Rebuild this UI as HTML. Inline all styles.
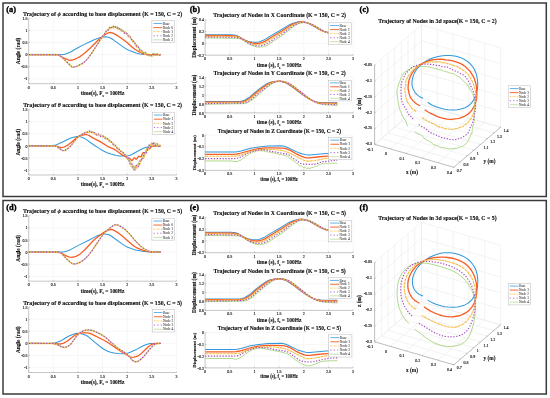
<!DOCTYPE html>
<html><head><meta charset="utf-8"><style>
html,body{margin:0;padding:0;background:#fff;}
svg{display:block;font-family:'Liberation Serif',serif;will-change:transform;}
</style></head><body>
<svg width="550" height="398" viewBox="0 0 550 398">
<rect width="550" height="398" fill="#fff"/>
<rect x="3" y="3" width="543.3" height="193.5" fill="none" stroke="#3a3a3a" stroke-width="1.5"/>
<text transform="translate(6.20 12.10) scale(0.8400 0.8400)" font-size="10" font-weight="bold" text-anchor="start" fill="#000" stroke="#000" stroke-width="0.417">(a)</text>
<text transform="translate(189.70 12.10) scale(0.8400 0.8400)" font-size="10" font-weight="bold" text-anchor="start" fill="#000" stroke="#000" stroke-width="0.417">(b)</text>
<line x1="53.32" y1="18.24" x2="53.32" y2="83.70" stroke="#efefef" stroke-width="0.5"/>
<line x1="77.93" y1="18.24" x2="77.93" y2="83.70" stroke="#efefef" stroke-width="0.5"/>
<line x1="102.55" y1="18.24" x2="102.55" y2="83.70" stroke="#efefef" stroke-width="0.5"/>
<line x1="127.17" y1="18.24" x2="127.17" y2="83.70" stroke="#efefef" stroke-width="0.5"/>
<line x1="151.78" y1="18.24" x2="151.78" y2="83.70" stroke="#efefef" stroke-width="0.5"/>
<line x1="176.40" y1="18.24" x2="176.40" y2="83.70" stroke="#efefef" stroke-width="0.5"/>
<line x1="28.70" y1="18.24" x2="176.40" y2="18.24" stroke="#efefef" stroke-width="0.5"/>
<line x1="28.70" y1="30.36" x2="176.40" y2="30.36" stroke="#efefef" stroke-width="0.5"/>
<line x1="28.70" y1="42.48" x2="176.40" y2="42.48" stroke="#efefef" stroke-width="0.5"/>
<line x1="28.70" y1="54.61" x2="176.40" y2="54.61" stroke="#efefef" stroke-width="0.5"/>
<line x1="28.70" y1="66.73" x2="176.40" y2="66.73" stroke="#efefef" stroke-width="0.5"/>
<line x1="28.70" y1="78.85" x2="176.40" y2="78.85" stroke="#efefef" stroke-width="0.5"/>
<line x1="28.70" y1="18.24" x2="28.70" y2="83.70" stroke="#8c8c8c" stroke-width="0.5"/>
<line x1="28.70" y1="83.70" x2="176.40" y2="83.70" stroke="#8c8c8c" stroke-width="0.5"/>
<line x1="28.70" y1="83.70" x2="28.70" y2="82.50" stroke="#8c8c8c" stroke-width="0.4"/>
<text transform="translate(28.70 88.70) scale(0.4000 0.4600)" font-size="10" font-weight="normal" text-anchor="middle" fill="#1a1a1a" stroke="#1a1a1a" stroke-width="0.350">0</text>
<line x1="53.32" y1="83.70" x2="53.32" y2="82.50" stroke="#8c8c8c" stroke-width="0.4"/>
<text transform="translate(53.32 88.70) scale(0.4000 0.4600)" font-size="10" font-weight="normal" text-anchor="middle" fill="#1a1a1a" stroke="#1a1a1a" stroke-width="0.350">0.5</text>
<line x1="77.93" y1="83.70" x2="77.93" y2="82.50" stroke="#8c8c8c" stroke-width="0.4"/>
<text transform="translate(77.93 88.70) scale(0.4000 0.4600)" font-size="10" font-weight="normal" text-anchor="middle" fill="#1a1a1a" stroke="#1a1a1a" stroke-width="0.350">1</text>
<line x1="102.55" y1="83.70" x2="102.55" y2="82.50" stroke="#8c8c8c" stroke-width="0.4"/>
<text transform="translate(102.55 88.70) scale(0.4000 0.4600)" font-size="10" font-weight="normal" text-anchor="middle" fill="#1a1a1a" stroke="#1a1a1a" stroke-width="0.350">1.5</text>
<line x1="127.17" y1="83.70" x2="127.17" y2="82.50" stroke="#8c8c8c" stroke-width="0.4"/>
<text transform="translate(127.17 88.70) scale(0.4000 0.4600)" font-size="10" font-weight="normal" text-anchor="middle" fill="#1a1a1a" stroke="#1a1a1a" stroke-width="0.350">2</text>
<line x1="151.78" y1="83.70" x2="151.78" y2="82.50" stroke="#8c8c8c" stroke-width="0.4"/>
<text transform="translate(151.78 88.70) scale(0.4000 0.4600)" font-size="10" font-weight="normal" text-anchor="middle" fill="#1a1a1a" stroke="#1a1a1a" stroke-width="0.350">2.5</text>
<line x1="176.40" y1="83.70" x2="176.40" y2="82.50" stroke="#8c8c8c" stroke-width="0.4"/>
<text transform="translate(176.40 88.70) scale(0.4000 0.4600)" font-size="10" font-weight="normal" text-anchor="middle" fill="#1a1a1a" stroke="#1a1a1a" stroke-width="0.350">3</text>
<line x1="28.70" y1="18.24" x2="29.90" y2="18.24" stroke="#8c8c8c" stroke-width="0.4"/>
<text transform="translate(27.50 19.84) scale(0.4000 0.4600)" font-size="10" font-weight="normal" text-anchor="end" fill="#1a1a1a" stroke="#1a1a1a" stroke-width="0.350">1.5</text>
<line x1="28.70" y1="30.36" x2="29.90" y2="30.36" stroke="#8c8c8c" stroke-width="0.4"/>
<text transform="translate(27.50 31.96) scale(0.4000 0.4600)" font-size="10" font-weight="normal" text-anchor="end" fill="#1a1a1a" stroke="#1a1a1a" stroke-width="0.350">1</text>
<line x1="28.70" y1="42.48" x2="29.90" y2="42.48" stroke="#8c8c8c" stroke-width="0.4"/>
<text transform="translate(27.50 44.08) scale(0.4000 0.4600)" font-size="10" font-weight="normal" text-anchor="end" fill="#1a1a1a" stroke="#1a1a1a" stroke-width="0.350">0.5</text>
<line x1="28.70" y1="54.61" x2="29.90" y2="54.61" stroke="#8c8c8c" stroke-width="0.4"/>
<text transform="translate(27.50 56.21) scale(0.4000 0.4600)" font-size="10" font-weight="normal" text-anchor="end" fill="#1a1a1a" stroke="#1a1a1a" stroke-width="0.350">0</text>
<line x1="28.70" y1="66.73" x2="29.90" y2="66.73" stroke="#8c8c8c" stroke-width="0.4"/>
<text transform="translate(27.50 68.33) scale(0.4000 0.4600)" font-size="10" font-weight="normal" text-anchor="end" fill="#1a1a1a" stroke="#1a1a1a" stroke-width="0.350">-0.5</text>
<line x1="28.70" y1="78.85" x2="29.90" y2="78.85" stroke="#8c8c8c" stroke-width="0.4"/>
<text transform="translate(27.50 80.45) scale(0.4000 0.4600)" font-size="10" font-weight="normal" text-anchor="end" fill="#1a1a1a" stroke="#1a1a1a" stroke-width="0.350">-1</text>
<clipPath id="c1"><rect x="28.7" y="16.24" width="147.70000000000002" height="67.46000000000001"/></clipPath>
<path d="M28.7 54.6L55.8 54.6L61.2 54.8L62.7 54.6L64.1 54.4L67.1 53.5L70.1 52.3L77.9 47.8L84.3 44.4L88.8 42.2L94.7 39.5L97.6 38.4L100.6 37.5L103.5 36.9L105.5 36.8L107.0 36.9L108.5 37.2L110.9 38.2L113.4 39.8L121.3 45.6L125.7 48.6L127.7 49.7L129.6 50.6L136.0 53.0L140.0 54.0L143.9 54.5L147.8 54.6L160.6 54.6" fill="none" stroke="#3399dd" stroke-width="1.05" stroke-linejoin="round" clip-path="url(#c1)"/>
<path d="M28.7 54.6L54.8 54.6L57.3 54.7L58.2 54.9L59.2 55.3L64.1 58.2L67.6 59.7L69.1 60.1L70.1 60.3L71.0 60.2L72.5 60.0L74.5 59.3L77.4 58.0L79.9 56.6L81.9 55.3L85.3 52.6L90.7 47.8L98.1 40.2L101.1 37.6L104.5 35.0L107.0 33.5L109.0 32.7L110.4 32.5L111.9 32.8L113.4 33.4L116.3 34.9L118.8 36.5L122.7 39.2L126.2 41.7L132.6 47.4L135.0 49.3L138.0 51.2L142.9 53.7L144.9 54.3L146.9 54.5L160.6 54.6" fill="none" stroke="#f65e26" stroke-width="1.3" stroke-linejoin="round" clip-path="url(#c1)"/>
<path d="M28.7 54.3L55.3 54.3L57.3 54.4L58.2 54.6L59.2 55.0L60.2 55.6L62.2 57.2L66.1 60.9L70.1 64.9L71.5 66.2L72.5 66.7L73.5 66.8L74.5 66.7L75.5 66.5L78.9 65.0L81.9 63.5L84.3 61.8L86.3 59.9L88.8 56.9L91.7 52.9L100.1 39.8L102.6 36.2L104.0 34.3L105.5 31.5L106.5 31.0L107.5 30.9L109.4 26.9L110.4 27.4L111.4 28.1L113.4 25.6L115.4 27.8L117.3 26.4L119.3 29.7L121.3 28.6L123.2 32.1L125.2 31.3L127.2 35.0L129.1 34.9L131.1 39.5L133.1 39.8L135.0 44.5L137.0 44.6L139.0 49.1L141.0 49.4L142.9 53.2L144.9 51.8L146.9 54.9L148.8 53.9L149.8 55.2L150.8 56.1L152.8 53.2L154.7 55.1L155.7 54.2L156.7 53.5L157.7 54.3L158.7 54.8L160.6 53.9" fill="none" stroke="#96cc66" stroke-width="0.75" stroke-linejoin="round" clip-path="url(#c1)"/>
<path d="M28.7 54.9L55.3 54.9L57.3 55.0L58.2 55.2L59.2 55.6L60.2 56.2L62.2 57.8L66.1 61.5L70.1 65.5L71.5 66.7L72.5 67.2L73.5 67.4L74.5 67.3L75.5 67.1L79.9 65.1L82.9 63.5L84.8 61.9L87.3 59.3L89.7 56.2L91.7 53.4L103.5 35.2L104.5 34.0L105.5 33.4L107.5 29.3L108.5 29.4L109.4 29.7L111.4 26.5L113.4 28.3L115.4 26.2L117.3 29.2L119.3 28.1L121.3 31.4L123.2 30.5L125.2 34.1L127.2 33.4L129.1 37.6L131.1 37.9L133.1 42.6L135.0 42.9L137.0 47.4L139.0 47.5L141.0 52.2L141.9 52.1L142.9 51.6L144.9 54.6L146.9 53.3L148.8 56.6L149.8 55.8L150.8 54.5L152.8 56.0L154.7 53.7L155.7 54.8L156.7 55.6L157.7 54.9L158.7 54.4L160.6 55.3" fill="none" stroke="#f6be4a" stroke-width="1.15" stroke-linejoin="round" stroke-dasharray="3 0.6" clip-path="url(#c1)"/>
<path d="M28.7 54.6L55.3 54.6L57.3 54.7L58.2 54.9L59.2 55.3L60.2 55.9L62.2 57.5L66.1 61.2L70.1 65.2L71.5 66.5L72.5 66.9L73.5 67.1L74.5 67.0L75.5 66.8L78.9 65.3L81.9 63.8L83.8 62.5L85.8 60.7L88.8 57.2L91.7 53.2L101.1 38.6L103.5 35.1L104.5 34.2L105.5 32.5L106.5 30.4L107.5 30.1L108.5 30.2L110.4 26.6L112.4 28.2L114.4 25.8L116.3 28.5L118.3 27.3L120.3 30.5L122.2 29.5L124.2 33.1L126.2 32.3L128.2 36.3L130.1 36.4L132.1 41.1L134.1 41.4L136.0 45.9L138.0 46.1L140.0 50.7L141.0 50.8L141.9 50.7L143.9 53.9L145.9 52.5L147.8 55.8L148.8 55.2L149.8 54.4L150.8 55.3L151.8 56.0L153.8 53.3L155.7 55.4L156.7 54.5L157.7 54.0L158.7 54.6L159.7 55.0L160.6 54.6" fill="none" stroke="#a64cc0" stroke-width="1.15" stroke-linejoin="round" stroke-dasharray="1.3 1.6" clip-path="url(#c1)"/>
<rect x="151.90" y="20.70" width="22.70" height="21.90" fill="#fff" stroke="#b8b8b8" stroke-width="0.5"/>
<line x1="153.49" y1="23.48" x2="162.34" y2="23.48" stroke="#3399dd" stroke-width="0.89" stroke-opacity="0.85"/>
<text transform="translate(162.84 24.68) scale(0.3500 0.4025)" font-size="10" font-weight="normal" text-anchor="start" fill="#3a3a3a" stroke="#3a3a3a" stroke-width="0.143">Base</text>
<line x1="153.49" y1="27.58" x2="162.34" y2="27.58" stroke="#f65e26" stroke-width="1.10" stroke-opacity="0.85"/>
<text transform="translate(162.84 28.78) scale(0.3500 0.4025)" font-size="10" font-weight="normal" text-anchor="start" fill="#3a3a3a" stroke="#3a3a3a" stroke-width="0.143">Node 0</text>
<line x1="153.49" y1="31.67" x2="162.34" y2="31.67" stroke="#f6be4a" stroke-width="0.98" stroke-opacity="0.85" stroke-dasharray="1.6 0.8 0.5 0.8"/>
<text transform="translate(162.84 32.87) scale(0.3500 0.4025)" font-size="10" font-weight="normal" text-anchor="start" fill="#3a3a3a" stroke="#3a3a3a" stroke-width="0.143">Node 1</text>
<line x1="153.49" y1="35.76" x2="162.34" y2="35.76" stroke="#a64cc0" stroke-width="0.98" stroke-opacity="0.85" stroke-dasharray="1.2 2.2"/>
<text transform="translate(162.84 36.96) scale(0.3500 0.4025)" font-size="10" font-weight="normal" text-anchor="start" fill="#3a3a3a" stroke="#3a3a3a" stroke-width="0.143">Node 2</text>
<line x1="153.49" y1="39.86" x2="162.34" y2="39.86" stroke="#96cc66" stroke-width="0.64" stroke-opacity="0.85"/>
<text transform="translate(162.84 41.06) scale(0.3500 0.4025)" font-size="10" font-weight="normal" text-anchor="start" fill="#3a3a3a" stroke="#3a3a3a" stroke-width="0.143">Node 3</text>
<text transform="translate(102.60 15.60) scale(0.5900 0.6785)" font-size="10" font-weight="bold" text-anchor="middle" fill="#111" stroke="#111" stroke-width="0.203">Trajectory of <tspan font-style="italic">&#981;</tspan> according to base displacement (K = 150, C = 2)</text>
<text transform="translate(19.60 50.97) rotate(-90) scale(0.5400 0.5400)" font-size="10" font-weight="bold" text-anchor="middle" fill="#111" stroke="#111" stroke-width="0.185">Angle (rad)</text>
<text transform="translate(102.55 95.00) scale(0.5400 0.6210)" font-size="10" font-weight="bold" text-anchor="middle" fill="#111" stroke="#111" stroke-width="0.185">time(s), F<tspan font-size="6.6" dy="3">s</tspan><tspan dy="-3"> = 100Hz</tspan></text>
<line x1="53.32" y1="109.54" x2="53.32" y2="175.00" stroke="#efefef" stroke-width="0.5"/>
<line x1="77.93" y1="109.54" x2="77.93" y2="175.00" stroke="#efefef" stroke-width="0.5"/>
<line x1="102.55" y1="109.54" x2="102.55" y2="175.00" stroke="#efefef" stroke-width="0.5"/>
<line x1="127.17" y1="109.54" x2="127.17" y2="175.00" stroke="#efefef" stroke-width="0.5"/>
<line x1="151.78" y1="109.54" x2="151.78" y2="175.00" stroke="#efefef" stroke-width="0.5"/>
<line x1="176.40" y1="109.54" x2="176.40" y2="175.00" stroke="#efefef" stroke-width="0.5"/>
<line x1="28.70" y1="109.54" x2="176.40" y2="109.54" stroke="#efefef" stroke-width="0.5"/>
<line x1="28.70" y1="121.66" x2="176.40" y2="121.66" stroke="#efefef" stroke-width="0.5"/>
<line x1="28.70" y1="133.78" x2="176.40" y2="133.78" stroke="#efefef" stroke-width="0.5"/>
<line x1="28.70" y1="145.91" x2="176.40" y2="145.91" stroke="#efefef" stroke-width="0.5"/>
<line x1="28.70" y1="158.03" x2="176.40" y2="158.03" stroke="#efefef" stroke-width="0.5"/>
<line x1="28.70" y1="170.15" x2="176.40" y2="170.15" stroke="#efefef" stroke-width="0.5"/>
<line x1="28.70" y1="109.54" x2="28.70" y2="175.00" stroke="#8c8c8c" stroke-width="0.5"/>
<line x1="28.70" y1="175.00" x2="176.40" y2="175.00" stroke="#8c8c8c" stroke-width="0.5"/>
<line x1="28.70" y1="175.00" x2="28.70" y2="173.80" stroke="#8c8c8c" stroke-width="0.4"/>
<text transform="translate(28.70 180.00) scale(0.4000 0.4600)" font-size="10" font-weight="normal" text-anchor="middle" fill="#1a1a1a" stroke="#1a1a1a" stroke-width="0.350">0</text>
<line x1="53.32" y1="175.00" x2="53.32" y2="173.80" stroke="#8c8c8c" stroke-width="0.4"/>
<text transform="translate(53.32 180.00) scale(0.4000 0.4600)" font-size="10" font-weight="normal" text-anchor="middle" fill="#1a1a1a" stroke="#1a1a1a" stroke-width="0.350">0.5</text>
<line x1="77.93" y1="175.00" x2="77.93" y2="173.80" stroke="#8c8c8c" stroke-width="0.4"/>
<text transform="translate(77.93 180.00) scale(0.4000 0.4600)" font-size="10" font-weight="normal" text-anchor="middle" fill="#1a1a1a" stroke="#1a1a1a" stroke-width="0.350">1</text>
<line x1="102.55" y1="175.00" x2="102.55" y2="173.80" stroke="#8c8c8c" stroke-width="0.4"/>
<text transform="translate(102.55 180.00) scale(0.4000 0.4600)" font-size="10" font-weight="normal" text-anchor="middle" fill="#1a1a1a" stroke="#1a1a1a" stroke-width="0.350">1.5</text>
<line x1="127.17" y1="175.00" x2="127.17" y2="173.80" stroke="#8c8c8c" stroke-width="0.4"/>
<text transform="translate(127.17 180.00) scale(0.4000 0.4600)" font-size="10" font-weight="normal" text-anchor="middle" fill="#1a1a1a" stroke="#1a1a1a" stroke-width="0.350">2</text>
<line x1="151.78" y1="175.00" x2="151.78" y2="173.80" stroke="#8c8c8c" stroke-width="0.4"/>
<text transform="translate(151.78 180.00) scale(0.4000 0.4600)" font-size="10" font-weight="normal" text-anchor="middle" fill="#1a1a1a" stroke="#1a1a1a" stroke-width="0.350">2.5</text>
<line x1="176.40" y1="175.00" x2="176.40" y2="173.80" stroke="#8c8c8c" stroke-width="0.4"/>
<text transform="translate(176.40 180.00) scale(0.4000 0.4600)" font-size="10" font-weight="normal" text-anchor="middle" fill="#1a1a1a" stroke="#1a1a1a" stroke-width="0.350">3</text>
<line x1="28.70" y1="109.54" x2="29.90" y2="109.54" stroke="#8c8c8c" stroke-width="0.4"/>
<text transform="translate(27.50 111.14) scale(0.4000 0.4600)" font-size="10" font-weight="normal" text-anchor="end" fill="#1a1a1a" stroke="#1a1a1a" stroke-width="0.350">1.5</text>
<line x1="28.70" y1="121.66" x2="29.90" y2="121.66" stroke="#8c8c8c" stroke-width="0.4"/>
<text transform="translate(27.50 123.26) scale(0.4000 0.4600)" font-size="10" font-weight="normal" text-anchor="end" fill="#1a1a1a" stroke="#1a1a1a" stroke-width="0.350">1</text>
<line x1="28.70" y1="133.78" x2="29.90" y2="133.78" stroke="#8c8c8c" stroke-width="0.4"/>
<text transform="translate(27.50 135.38) scale(0.4000 0.4600)" font-size="10" font-weight="normal" text-anchor="end" fill="#1a1a1a" stroke="#1a1a1a" stroke-width="0.350">0.5</text>
<line x1="28.70" y1="145.91" x2="29.90" y2="145.91" stroke="#8c8c8c" stroke-width="0.4"/>
<text transform="translate(27.50 147.51) scale(0.4000 0.4600)" font-size="10" font-weight="normal" text-anchor="end" fill="#1a1a1a" stroke="#1a1a1a" stroke-width="0.350">0</text>
<line x1="28.70" y1="158.03" x2="29.90" y2="158.03" stroke="#8c8c8c" stroke-width="0.4"/>
<text transform="translate(27.50 159.63) scale(0.4000 0.4600)" font-size="10" font-weight="normal" text-anchor="end" fill="#1a1a1a" stroke="#1a1a1a" stroke-width="0.350">-0.5</text>
<line x1="28.70" y1="170.15" x2="29.90" y2="170.15" stroke="#8c8c8c" stroke-width="0.4"/>
<text transform="translate(27.50 171.75) scale(0.4000 0.4600)" font-size="10" font-weight="normal" text-anchor="end" fill="#1a1a1a" stroke="#1a1a1a" stroke-width="0.350">-1</text>
<clipPath id="c2"><rect x="28.7" y="107.53999999999999" width="147.70000000000002" height="67.46000000000001"/></clipPath>
<path d="M28.7 145.9L49.4 145.9L52.8 145.6L55.8 144.9L58.7 143.8L63.2 141.8L68.6 139.0L71.5 137.8L75.5 136.7L76.9 136.6L78.4 136.6L79.9 136.8L81.9 137.3L83.3 137.9L84.8 138.6L86.8 139.9L91.7 143.5L99.1 148.4L103.0 150.8L106.5 152.5L110.9 154.1L116.3 155.4L119.8 156.0L123.7 156.1L127.2 156.0L129.6 155.4L132.1 154.3L141.4 149.2L143.4 148.3L145.9 147.5L148.8 146.9L151.8 146.4L156.2 146.1L160.6 145.9" fill="none" stroke="#3399dd" stroke-width="1.05" stroke-linejoin="round" clip-path="url(#c2)"/>
<path d="M28.7 145.9L54.3 145.9L56.8 146.3L59.7 147.3L60.7 147.5L61.7 147.6L62.7 147.4L64.1 147.0L65.6 146.3L68.6 144.6L72.0 141.8L76.5 137.7L78.4 136.4L80.4 135.6L82.9 135.0L84.8 134.7L86.8 134.7L87.8 135.0L89.3 135.6L94.2 138.6L100.6 141.9L107.5 146.3L112.9 148.7L114.9 149.7L116.8 151.0L123.2 155.7L124.2 156.0L125.2 155.9L125.7 156.3L126.2 156.9L127.2 158.4L127.7 159.0L129.6 158.1L131.6 160.6L132.1 160.7L134.1 157.9L134.6 158.0L136.0 159.2L136.5 159.2L138.5 156.3L139.0 156.3L140.5 156.9L141.0 156.7L142.9 152.8L143.4 152.6L144.9 152.8L145.4 152.5L147.4 148.5L147.8 148.4L149.3 148.9L149.8 148.7L150.8 147.1L151.8 146.1L153.3 146.3L155.2 145.9L160.6 145.9" fill="none" stroke="#f65e26" stroke-width="1.3" stroke-linejoin="round" clip-path="url(#c2)"/>
<path d="M28.7 145.6L54.8 145.7L56.3 146.0L57.3 146.5L60.7 149.2L61.7 149.8L63.2 150.3L64.1 150.3L65.1 149.9L66.6 149.1L69.6 146.7L71.5 144.6L76.5 138.3L78.4 136.4L80.4 134.9L83.8 133.0L84.8 132.3L85.8 132.2L86.8 132.5L87.3 132.2L88.8 130.7L89.3 130.7L90.7 132.0L91.2 132.2L92.7 131.6L93.2 131.5L95.2 134.2L95.7 134.1L97.1 133.5L97.6 133.7L99.1 135.4L99.6 135.7L101.6 134.8L103.5 137.2L105.5 136.8L106.0 137.2L107.5 139.4L108.0 139.8L109.4 139.7L109.9 139.8L111.9 143.1L113.9 143.6L114.4 144.1L115.8 146.9L116.3 147.5L118.3 147.8L120.3 151.2L120.8 151.3L122.2 151.3L122.7 151.8L124.2 154.6L124.7 155.3L126.7 155.0L128.6 161.1L129.1 161.5L130.6 161.4L131.1 162.5L132.6 168.1L133.1 169.0L134.1 167.5L135.0 165.6L136.0 167.3L137.0 168.5L137.5 167.1L139.0 161.6L139.5 161.0L141.0 161.9L141.4 161.4L143.4 153.8L145.4 154.7L147.4 147.3L147.8 146.7L149.3 147.9L149.8 147.6L150.8 144.5L151.8 142.2L153.8 145.2L155.7 142.8L156.2 143.2L157.7 145.8L158.2 146.1L159.7 144.9L160.2 144.6L160.6 145.1" fill="none" stroke="#96cc66" stroke-width="0.75" stroke-linejoin="round" clip-path="url(#c2)"/>
<path d="M28.7 146.2L54.8 146.3L56.3 146.6L57.3 147.1L60.7 149.8L61.7 150.4L63.2 150.9L64.1 150.8L65.1 150.5L66.6 149.7L69.6 147.3L71.5 145.2L76.5 138.9L77.9 137.4L79.4 136.2L80.9 135.2L83.3 133.8L84.3 133.4L85.3 133.4L86.3 132.6L87.3 131.5L87.8 131.7L89.3 132.7L91.2 131.4L91.7 131.6L93.2 133.5L93.7 134.0L95.7 133.3L97.6 135.7L98.1 135.7L99.6 134.9L100.1 135.0L101.6 136.7L102.1 137.1L104.0 136.4L106.0 139.2L106.5 139.3L108.0 139.0L108.5 139.4L110.4 142.4L112.4 142.5L114.4 146.1L114.9 146.4L116.3 146.7L116.8 147.2L118.3 149.8L118.8 150.4L120.8 150.5L122.7 153.9L123.2 154.1L124.7 153.9L125.2 154.3L127.2 159.1L129.1 159.0L131.1 166.6L131.6 167.0L132.1 166.7L133.1 165.8L133.6 166.2L135.0 169.9L135.5 170.3L137.5 164.0L139.5 165.4L140.0 164.0L141.4 158.3L141.9 157.4L143.4 158.1L143.9 157.8L145.9 149.9L147.8 151.0L148.3 149.7L149.8 144.5L150.3 144.1L151.8 146.0L152.3 146.2L153.3 144.1L154.2 142.4L156.2 146.2L156.7 146.0L158.2 144.7L158.7 144.9L160.2 146.7L160.6 146.9" fill="none" stroke="#f6be4a" stroke-width="1.15" stroke-linejoin="round" stroke-dasharray="3 0.6" clip-path="url(#c2)"/>
<path d="M28.7 145.9L54.8 146.0L56.3 146.3L57.3 146.8L60.7 149.5L61.7 150.1L63.2 150.6L64.1 150.5L65.1 150.2L66.6 149.4L69.6 147.0L71.5 144.9L76.5 138.6L77.9 137.1L79.4 135.9L82.4 134.0L84.3 133.3L85.8 132.1L86.3 131.9L87.3 132.2L87.8 132.4L88.3 132.5L90.2 130.7L92.2 132.9L92.7 132.9L94.2 132.5L94.7 132.8L96.1 134.7L96.6 135.1L98.6 134.1L100.6 136.3L101.1 136.3L102.6 135.6L103.0 135.8L104.5 137.8L105.0 138.3L107.0 137.9L109.0 140.9L109.4 141.0L110.9 141.0L111.4 141.5L112.9 144.1L113.4 144.8L115.4 145.2L117.3 148.8L117.8 149.0L119.3 149.1L119.8 149.6L121.3 152.1L121.8 152.6L123.7 152.5L125.7 156.8L126.2 157.0L127.7 156.8L128.2 157.6L130.1 164.2L131.1 164.2L132.1 163.8L133.1 167.2L134.1 170.1L134.6 169.6L136.0 165.8L136.5 165.4L138.0 166.9L138.5 166.6L140.5 159.1L142.4 160.2L142.9 158.6L144.4 152.7L144.9 152.0L146.4 152.7L146.9 152.3L148.8 144.9L150.8 147.0L152.8 142.5L153.3 142.5L154.7 145.1L155.2 145.5L156.2 144.4L157.2 143.7L158.2 145.3L159.2 146.6L160.6 145.6" fill="none" stroke="#a64cc0" stroke-width="1.15" stroke-linejoin="round" stroke-dasharray="1.3 1.6" clip-path="url(#c2)"/>
<rect x="152.40" y="112.20" width="21.90" height="22.30" fill="#fff" stroke="#b8b8b8" stroke-width="0.5"/>
<line x1="153.93" y1="115.03" x2="162.47" y2="115.03" stroke="#3399dd" stroke-width="0.89" stroke-opacity="0.85"/>
<text transform="translate(162.97 116.23) scale(0.3500 0.4025)" font-size="10" font-weight="normal" text-anchor="start" fill="#3a3a3a" stroke="#3a3a3a" stroke-width="0.143">Base</text>
<line x1="153.93" y1="119.20" x2="162.47" y2="119.20" stroke="#f65e26" stroke-width="1.10" stroke-opacity="0.85"/>
<text transform="translate(162.97 120.40) scale(0.3500 0.4025)" font-size="10" font-weight="normal" text-anchor="start" fill="#3a3a3a" stroke="#3a3a3a" stroke-width="0.143">Node 1</text>
<line x1="153.93" y1="123.37" x2="162.47" y2="123.37" stroke="#f6be4a" stroke-width="0.98" stroke-opacity="0.85" stroke-dasharray="1.6 0.8 0.5 0.8"/>
<text transform="translate(162.97 124.57) scale(0.3500 0.4025)" font-size="10" font-weight="normal" text-anchor="start" fill="#3a3a3a" stroke="#3a3a3a" stroke-width="0.143">Node 2</text>
<line x1="153.93" y1="127.54" x2="162.47" y2="127.54" stroke="#a64cc0" stroke-width="0.98" stroke-opacity="0.85" stroke-dasharray="1.2 2.2"/>
<text transform="translate(162.97 128.74) scale(0.3500 0.4025)" font-size="10" font-weight="normal" text-anchor="start" fill="#3a3a3a" stroke="#3a3a3a" stroke-width="0.143">Node 3</text>
<line x1="153.93" y1="131.71" x2="162.47" y2="131.71" stroke="#96cc66" stroke-width="0.64" stroke-opacity="0.85"/>
<text transform="translate(162.97 132.91) scale(0.3500 0.4025)" font-size="10" font-weight="normal" text-anchor="start" fill="#3a3a3a" stroke="#3a3a3a" stroke-width="0.143">Node 4</text>
<text transform="translate(102.60 107.40) scale(0.5900 0.6785)" font-size="10" font-weight="bold" text-anchor="middle" fill="#111" stroke="#111" stroke-width="0.203">Trajectory of <tspan font-style="italic">&#952;</tspan> according to base displacement (K = 150, C = 2)</text>
<text transform="translate(19.60 142.27) rotate(-90) scale(0.5400 0.5400)" font-size="10" font-weight="bold" text-anchor="middle" fill="#111" stroke="#111" stroke-width="0.185">Angle (rad)</text>
<text transform="translate(102.55 186.00) scale(0.5400 0.6210)" font-size="10" font-weight="bold" text-anchor="middle" fill="#111" stroke="#111" stroke-width="0.185">time(s), F<tspan font-size="6.6" dy="3">s</tspan><tspan dy="-3"> = 100Hz</tspan></text>
<line x1="229.77" y1="19.80" x2="229.77" y2="55.20" stroke="#efefef" stroke-width="0.5"/>
<line x1="254.43" y1="19.80" x2="254.43" y2="55.20" stroke="#efefef" stroke-width="0.5"/>
<line x1="279.10" y1="19.80" x2="279.10" y2="55.20" stroke="#efefef" stroke-width="0.5"/>
<line x1="303.77" y1="19.80" x2="303.77" y2="55.20" stroke="#efefef" stroke-width="0.5"/>
<line x1="328.43" y1="19.80" x2="328.43" y2="55.20" stroke="#efefef" stroke-width="0.5"/>
<line x1="353.10" y1="19.80" x2="353.10" y2="55.20" stroke="#efefef" stroke-width="0.5"/>
<line x1="205.10" y1="19.80" x2="353.10" y2="19.80" stroke="#efefef" stroke-width="0.5"/>
<line x1="205.10" y1="31.60" x2="353.10" y2="31.60" stroke="#efefef" stroke-width="0.5"/>
<line x1="205.10" y1="43.40" x2="353.10" y2="43.40" stroke="#efefef" stroke-width="0.5"/>
<line x1="205.10" y1="19.80" x2="205.10" y2="55.20" stroke="#8c8c8c" stroke-width="0.5"/>
<line x1="205.10" y1="55.20" x2="353.10" y2="55.20" stroke="#8c8c8c" stroke-width="0.5"/>
<line x1="205.10" y1="55.20" x2="205.10" y2="54.00" stroke="#8c8c8c" stroke-width="0.4"/>
<text transform="translate(205.10 60.20) scale(0.4000 0.4600)" font-size="10" font-weight="normal" text-anchor="middle" fill="#1a1a1a" stroke="#1a1a1a" stroke-width="0.350">0</text>
<line x1="229.77" y1="55.20" x2="229.77" y2="54.00" stroke="#8c8c8c" stroke-width="0.4"/>
<text transform="translate(229.77 60.20) scale(0.4000 0.4600)" font-size="10" font-weight="normal" text-anchor="middle" fill="#1a1a1a" stroke="#1a1a1a" stroke-width="0.350">0.5</text>
<line x1="254.43" y1="55.20" x2="254.43" y2="54.00" stroke="#8c8c8c" stroke-width="0.4"/>
<text transform="translate(254.43 60.20) scale(0.4000 0.4600)" font-size="10" font-weight="normal" text-anchor="middle" fill="#1a1a1a" stroke="#1a1a1a" stroke-width="0.350">1</text>
<line x1="279.10" y1="55.20" x2="279.10" y2="54.00" stroke="#8c8c8c" stroke-width="0.4"/>
<text transform="translate(279.10 60.20) scale(0.4000 0.4600)" font-size="10" font-weight="normal" text-anchor="middle" fill="#1a1a1a" stroke="#1a1a1a" stroke-width="0.350">1.5</text>
<line x1="303.77" y1="55.20" x2="303.77" y2="54.00" stroke="#8c8c8c" stroke-width="0.4"/>
<text transform="translate(303.77 60.20) scale(0.4000 0.4600)" font-size="10" font-weight="normal" text-anchor="middle" fill="#1a1a1a" stroke="#1a1a1a" stroke-width="0.350">2</text>
<line x1="328.43" y1="55.20" x2="328.43" y2="54.00" stroke="#8c8c8c" stroke-width="0.4"/>
<text transform="translate(328.43 60.20) scale(0.4000 0.4600)" font-size="10" font-weight="normal" text-anchor="middle" fill="#1a1a1a" stroke="#1a1a1a" stroke-width="0.350">2.5</text>
<line x1="353.10" y1="55.20" x2="353.10" y2="54.00" stroke="#8c8c8c" stroke-width="0.4"/>
<text transform="translate(353.10 60.20) scale(0.4000 0.4600)" font-size="10" font-weight="normal" text-anchor="middle" fill="#1a1a1a" stroke="#1a1a1a" stroke-width="0.350">3</text>
<line x1="205.10" y1="19.80" x2="206.30" y2="19.80" stroke="#8c8c8c" stroke-width="0.4"/>
<text transform="translate(203.90 21.40) scale(0.4000 0.4600)" font-size="10" font-weight="normal" text-anchor="end" fill="#1a1a1a" stroke="#1a1a1a" stroke-width="0.350">0.4</text>
<line x1="205.10" y1="31.60" x2="206.30" y2="31.60" stroke="#8c8c8c" stroke-width="0.4"/>
<text transform="translate(203.90 33.20) scale(0.4000 0.4600)" font-size="10" font-weight="normal" text-anchor="end" fill="#1a1a1a" stroke="#1a1a1a" stroke-width="0.350">0.2</text>
<line x1="205.10" y1="43.40" x2="206.30" y2="43.40" stroke="#8c8c8c" stroke-width="0.4"/>
<text transform="translate(203.90 45.00) scale(0.4000 0.4600)" font-size="10" font-weight="normal" text-anchor="end" fill="#1a1a1a" stroke="#1a1a1a" stroke-width="0.350">0</text>
<line x1="205.10" y1="55.20" x2="206.30" y2="55.20" stroke="#8c8c8c" stroke-width="0.4"/>
<text transform="translate(203.90 56.80) scale(0.4000 0.4600)" font-size="10" font-weight="normal" text-anchor="end" fill="#1a1a1a" stroke="#1a1a1a" stroke-width="0.350">-0.2</text>
<clipPath id="c3"><rect x="205.1" y="17.8" width="148.00000000000003" height="37.400000000000006"/></clipPath>
<path d="M205.1 34.7L230.3 34.7L233.7 34.9L235.7 35.3L237.7 36.0L239.1 36.8L243.6 39.4L246.0 40.5L248.0 41.2L250.5 41.8L253.0 42.2L254.9 42.3L256.9 42.2L258.9 41.9L260.8 41.3L263.8 40.1L270.2 36.1L279.6 30.7L287.0 26.1L289.5 24.8L292.4 23.6L295.9 22.4L298.3 21.8L300.3 21.7L302.3 21.8L304.3 22.1L306.2 22.5L307.7 23.0L310.2 24.3L319.1 29.4L321.5 30.6L324.5 31.6L326.5 32.1L328.9 32.5L332.9 32.8L337.3 32.9" fill="none" stroke="#3399dd" stroke-width="1.05" stroke-linejoin="round" clip-path="url(#c3)"/>
<path d="M205.1 35.5L231.2 35.6L234.7 35.8L237.2 36.3L239.1 37.0L245.1 40.5L247.5 41.6L249.5 42.4L252.0 43.0L254.4 43.4L256.9 43.5L258.4 43.4L260.4 43.0L262.3 42.4L265.3 41.1L271.7 37.0L281.6 31.2L287.5 27.2L290.9 25.2L293.9 23.8L297.4 22.5L298.8 22.1L301.3 21.8L303.3 21.9L305.2 22.3L307.2 22.8L309.2 23.5L311.7 24.8L320.5 30.0L323.0 31.1L325.5 32.0L327.9 32.6L329.9 32.9L337.3 33.4" fill="none" stroke="#f65e26" stroke-width="1.3" stroke-linejoin="round" clip-path="url(#c3)"/>
<path d="M205.1 38.0L235.2 38.3L238.6 38.5L240.6 39.0L242.6 39.9L244.1 40.7L248.5 43.7L251.0 45.0L253.0 45.8L256.9 47.0L259.4 47.1L261.3 47.0L263.3 46.6L265.8 45.8L267.8 44.9L269.2 44.1L275.2 40.0L281.6 36.0L291.9 27.9L294.4 26.1L296.4 24.9L298.8 23.5L301.8 22.9L303.8 22.7L305.2 22.7L307.2 23.0L310.7 23.8L312.6 24.5L315.1 25.7L324.0 31.1L326.0 32.1L328.4 33.1L330.4 33.7L332.4 34.2L337.3 34.7" fill="none" stroke="#96cc66" stroke-width="0.75" stroke-linejoin="round" clip-path="url(#c3)"/>
<path d="M205.1 36.3L232.7 36.5L236.2 36.7L238.2 37.1L240.1 37.9L241.6 38.7L246.0 41.4L248.5 42.6L250.5 43.4L253.0 44.1L255.9 44.7L257.4 44.8L259.4 44.6L261.3 44.2L263.3 43.6L265.3 42.8L266.8 42.0L272.7 38.1L281.6 32.8L289.5 27.2L292.9 25.2L295.9 23.7L298.8 22.5L300.8 22.2L302.3 22.1L304.3 22.2L306.2 22.5L308.2 23.0L310.2 23.7L312.6 25.0L321.5 30.3L324.0 31.4L326.5 32.3L328.9 33.0L330.9 33.4L337.3 33.8" fill="none" stroke="#f6be4a" stroke-width="1.15" stroke-linejoin="round" stroke-dasharray="3 0.6" clip-path="url(#c3)"/>
<path d="M205.1 37.1L233.7 37.4L237.2 37.6L239.6 38.1L241.1 38.7L242.6 39.5L247.5 42.7L250.0 43.9L252.0 44.7L254.4 45.4L256.9 45.9L258.9 46.0L260.4 45.8L262.3 45.4L264.8 44.6L266.8 43.8L268.2 42.9L274.2 38.9L281.6 34.4L290.9 27.4L294.9 25.0L298.8 23.0L301.3 22.5L303.3 22.3L305.2 22.5L307.2 22.8L309.7 23.5L311.7 24.2L314.1 25.5L322.5 30.5L325.0 31.7L327.4 32.7L329.4 33.3L331.4 33.7L337.3 34.3" fill="none" stroke="#a64cc0" stroke-width="1.15" stroke-linejoin="round" stroke-dasharray="1.3 1.6" clip-path="url(#c3)"/>
<rect x="328.50" y="22.80" width="22.90" height="21.60" fill="#fff" stroke="#b8b8b8" stroke-width="0.5"/>
<line x1="330.10" y1="25.55" x2="339.03" y2="25.55" stroke="#3399dd" stroke-width="0.89" stroke-opacity="0.85"/>
<text transform="translate(339.53 26.75) scale(0.3500 0.4025)" font-size="10" font-weight="normal" text-anchor="start" fill="#3a3a3a" stroke="#3a3a3a" stroke-width="0.143">Base</text>
<line x1="330.10" y1="29.58" x2="339.03" y2="29.58" stroke="#f65e26" stroke-width="1.10" stroke-opacity="0.85"/>
<text transform="translate(339.53 30.78) scale(0.3500 0.4025)" font-size="10" font-weight="normal" text-anchor="start" fill="#3a3a3a" stroke="#3a3a3a" stroke-width="0.143">Node 1</text>
<line x1="330.10" y1="33.62" x2="339.03" y2="33.62" stroke="#f6be4a" stroke-width="0.98" stroke-opacity="0.85" stroke-dasharray="1.6 0.8 0.5 0.8"/>
<text transform="translate(339.53 34.82) scale(0.3500 0.4025)" font-size="10" font-weight="normal" text-anchor="start" fill="#3a3a3a" stroke="#3a3a3a" stroke-width="0.143">Node 2</text>
<line x1="330.10" y1="37.66" x2="339.03" y2="37.66" stroke="#a64cc0" stroke-width="0.98" stroke-opacity="0.85" stroke-dasharray="1.2 2.2"/>
<text transform="translate(339.53 38.86) scale(0.3500 0.4025)" font-size="10" font-weight="normal" text-anchor="start" fill="#3a3a3a" stroke="#3a3a3a" stroke-width="0.143">Node 3</text>
<line x1="330.10" y1="41.69" x2="339.03" y2="41.69" stroke="#96cc66" stroke-width="0.64" stroke-opacity="0.85"/>
<text transform="translate(339.53 42.89) scale(0.3500 0.4025)" font-size="10" font-weight="normal" text-anchor="start" fill="#3a3a3a" stroke="#3a3a3a" stroke-width="0.143">Node 4</text>
<text transform="translate(279.60 17.40) scale(0.5870 0.6750)" font-size="10" font-weight="bold" text-anchor="middle" fill="#111" stroke="#111" stroke-width="0.204">Trajectory of Nodes in X Coordinate (K = 150, C = 2)</text>
<text transform="translate(195.90 37.50) rotate(-90) scale(0.5400 0.5400)" font-size="10" font-weight="bold" text-anchor="middle" fill="#111" stroke="#111" stroke-width="0.185">Displacement (m)</text>
<text transform="translate(279.10 66.70) scale(0.5550 0.6382)" font-size="10" font-weight="bold" text-anchor="middle" fill="#111" stroke="#111" stroke-width="0.180">time (s), f<tspan font-size="6.6" dy="3">s</tspan><tspan dy="-3"> = 100Hz</tspan></text>
<line x1="229.77" y1="77.30" x2="229.77" y2="112.90" stroke="#efefef" stroke-width="0.5"/>
<line x1="254.43" y1="77.30" x2="254.43" y2="112.90" stroke="#efefef" stroke-width="0.5"/>
<line x1="279.10" y1="77.30" x2="279.10" y2="112.90" stroke="#efefef" stroke-width="0.5"/>
<line x1="303.77" y1="77.30" x2="303.77" y2="112.90" stroke="#efefef" stroke-width="0.5"/>
<line x1="328.43" y1="77.30" x2="328.43" y2="112.90" stroke="#efefef" stroke-width="0.5"/>
<line x1="353.10" y1="77.30" x2="353.10" y2="112.90" stroke="#efefef" stroke-width="0.5"/>
<line x1="205.10" y1="77.30" x2="353.10" y2="77.30" stroke="#efefef" stroke-width="0.5"/>
<line x1="205.10" y1="86.20" x2="353.10" y2="86.20" stroke="#efefef" stroke-width="0.5"/>
<line x1="205.10" y1="95.10" x2="353.10" y2="95.10" stroke="#efefef" stroke-width="0.5"/>
<line x1="205.10" y1="104.00" x2="353.10" y2="104.00" stroke="#efefef" stroke-width="0.5"/>
<line x1="205.10" y1="77.30" x2="205.10" y2="112.90" stroke="#8c8c8c" stroke-width="0.5"/>
<line x1="205.10" y1="112.90" x2="353.10" y2="112.90" stroke="#8c8c8c" stroke-width="0.5"/>
<line x1="205.10" y1="112.90" x2="205.10" y2="111.70" stroke="#8c8c8c" stroke-width="0.4"/>
<text transform="translate(205.10 117.90) scale(0.4000 0.4600)" font-size="10" font-weight="normal" text-anchor="middle" fill="#1a1a1a" stroke="#1a1a1a" stroke-width="0.350">0</text>
<line x1="229.77" y1="112.90" x2="229.77" y2="111.70" stroke="#8c8c8c" stroke-width="0.4"/>
<text transform="translate(229.77 117.90) scale(0.4000 0.4600)" font-size="10" font-weight="normal" text-anchor="middle" fill="#1a1a1a" stroke="#1a1a1a" stroke-width="0.350">0.5</text>
<line x1="254.43" y1="112.90" x2="254.43" y2="111.70" stroke="#8c8c8c" stroke-width="0.4"/>
<text transform="translate(254.43 117.90) scale(0.4000 0.4600)" font-size="10" font-weight="normal" text-anchor="middle" fill="#1a1a1a" stroke="#1a1a1a" stroke-width="0.350">1</text>
<line x1="279.10" y1="112.90" x2="279.10" y2="111.70" stroke="#8c8c8c" stroke-width="0.4"/>
<text transform="translate(279.10 117.90) scale(0.4000 0.4600)" font-size="10" font-weight="normal" text-anchor="middle" fill="#1a1a1a" stroke="#1a1a1a" stroke-width="0.350">1.5</text>
<line x1="303.77" y1="112.90" x2="303.77" y2="111.70" stroke="#8c8c8c" stroke-width="0.4"/>
<text transform="translate(303.77 117.90) scale(0.4000 0.4600)" font-size="10" font-weight="normal" text-anchor="middle" fill="#1a1a1a" stroke="#1a1a1a" stroke-width="0.350">2</text>
<line x1="328.43" y1="112.90" x2="328.43" y2="111.70" stroke="#8c8c8c" stroke-width="0.4"/>
<text transform="translate(328.43 117.90) scale(0.4000 0.4600)" font-size="10" font-weight="normal" text-anchor="middle" fill="#1a1a1a" stroke="#1a1a1a" stroke-width="0.350">2.5</text>
<line x1="353.10" y1="112.90" x2="353.10" y2="111.70" stroke="#8c8c8c" stroke-width="0.4"/>
<text transform="translate(353.10 117.90) scale(0.4000 0.4600)" font-size="10" font-weight="normal" text-anchor="middle" fill="#1a1a1a" stroke="#1a1a1a" stroke-width="0.350">3</text>
<line x1="205.10" y1="77.30" x2="206.30" y2="77.30" stroke="#8c8c8c" stroke-width="0.4"/>
<text transform="translate(203.90 78.90) scale(0.4000 0.4600)" font-size="10" font-weight="normal" text-anchor="end" fill="#1a1a1a" stroke="#1a1a1a" stroke-width="0.350">1.4</text>
<line x1="205.10" y1="86.20" x2="206.30" y2="86.20" stroke="#8c8c8c" stroke-width="0.4"/>
<text transform="translate(203.90 87.80) scale(0.4000 0.4600)" font-size="10" font-weight="normal" text-anchor="end" fill="#1a1a1a" stroke="#1a1a1a" stroke-width="0.350">1.2</text>
<line x1="205.10" y1="95.10" x2="206.30" y2="95.10" stroke="#8c8c8c" stroke-width="0.4"/>
<text transform="translate(203.90 96.70) scale(0.4000 0.4600)" font-size="10" font-weight="normal" text-anchor="end" fill="#1a1a1a" stroke="#1a1a1a" stroke-width="0.350">1</text>
<line x1="205.10" y1="104.00" x2="206.30" y2="104.00" stroke="#8c8c8c" stroke-width="0.4"/>
<text transform="translate(203.90 105.60) scale(0.4000 0.4600)" font-size="10" font-weight="normal" text-anchor="end" fill="#1a1a1a" stroke="#1a1a1a" stroke-width="0.350">0.8</text>
<line x1="205.10" y1="112.90" x2="206.30" y2="112.90" stroke="#8c8c8c" stroke-width="0.4"/>
<text transform="translate(203.90 114.50) scale(0.4000 0.4600)" font-size="10" font-weight="normal" text-anchor="end" fill="#1a1a1a" stroke="#1a1a1a" stroke-width="0.350">0.6</text>
<clipPath id="c4"><rect x="205.1" y="75.3" width="148.00000000000003" height="37.60000000000001"/></clipPath>
<path d="M205.1 101.5L238.6 101.5L240.6 101.4L242.1 101.1L244.6 100.2L248.5 97.8L250.5 96.3L255.9 91.6L260.4 88.1L263.8 85.6L267.3 83.5L269.2 82.6L271.7 81.9L275.2 81.4L278.6 81.3L280.6 81.4L283.0 82.0L285.5 82.8L287.5 83.8L291.9 86.7L299.3 92.3L305.2 96.6L310.2 99.6L313.6 101.3L316.6 102.0L320.5 102.5L337.3 102.7" fill="none" stroke="#3399dd" stroke-width="1.05" stroke-linejoin="round" clip-path="url(#c4)"/>
<path d="M205.1 102.2L239.6 102.0L241.6 101.9L243.1 101.6L245.6 100.7L249.5 98.3L251.5 96.8L256.4 92.5L260.8 88.9L264.8 86.1L268.2 83.8L270.2 82.9L272.7 82.1L275.6 81.5L279.1 81.2L281.6 81.4L284.0 82.0L286.5 82.9L288.5 84.0L292.9 86.9L300.3 92.6L306.2 97.0L311.2 100.0L314.6 101.7L317.6 102.5L321.0 103.0L337.3 103.4" fill="none" stroke="#f65e26" stroke-width="1.3" stroke-linejoin="round" clip-path="url(#c4)"/>
<path d="M205.1 104.3L242.6 103.6L245.1 103.4L246.5 103.0L248.0 102.4L249.5 101.6L253.0 99.4L254.9 97.8L259.9 93.4L266.8 87.7L271.7 84.0L273.7 82.9L275.6 82.1L279.1 81.1L280.1 81.1L283.0 81.3L285.5 81.8L288.0 82.7L290.4 83.9L295.9 87.6L303.3 93.6L309.2 98.2L313.6 101.1L317.1 103.0L320.0 104.0L323.5 104.6L327.0 104.9L337.3 105.5" fill="none" stroke="#96cc66" stroke-width="0.75" stroke-linejoin="round" clip-path="url(#c4)"/>
<path d="M205.1 102.9L240.6 102.5L243.1 102.4L244.6 102.0L246.0 101.4L247.5 100.7L251.0 98.5L253.0 96.9L257.4 92.9L261.3 89.7L265.8 86.4L269.2 84.1L271.2 83.0L273.7 82.1L276.6 81.5L279.6 81.2L282.1 81.3L284.0 81.7L286.5 82.6L289.0 83.8L293.4 86.7L301.3 92.9L307.2 97.4L312.2 100.5L315.6 102.2L318.6 103.0L322.0 103.5L337.3 104.1" fill="none" stroke="#f6be4a" stroke-width="1.15" stroke-linejoin="round" stroke-dasharray="3 0.6" clip-path="url(#c4)"/>
<path d="M205.1 103.6L241.6 103.1L244.1 102.9L245.6 102.5L247.0 101.9L248.5 101.2L252.0 98.9L261.3 90.9L266.8 86.7L270.2 84.2L272.2 83.1L274.2 82.3L277.1 81.5L279.6 81.1L282.1 81.2L284.5 81.7L287.0 82.5L289.5 83.7L291.9 85.2L294.9 87.4L302.3 93.3L308.2 97.8L313.1 100.9L316.6 102.7L319.6 103.5L323.0 104.1L337.3 104.8" fill="none" stroke="#a64cc0" stroke-width="1.15" stroke-linejoin="round" stroke-dasharray="1.3 1.6" clip-path="url(#c4)"/>
<rect x="328.50" y="80.30" width="22.90" height="20.60" fill="#fff" stroke="#b8b8b8" stroke-width="0.5"/>
<line x1="330.10" y1="82.92" x2="339.03" y2="82.92" stroke="#3399dd" stroke-width="0.89" stroke-opacity="0.85"/>
<text transform="translate(339.53 84.12) scale(0.3500 0.4025)" font-size="10" font-weight="normal" text-anchor="start" fill="#3a3a3a" stroke="#3a3a3a" stroke-width="0.143">Base</text>
<line x1="330.10" y1="86.77" x2="339.03" y2="86.77" stroke="#f65e26" stroke-width="1.10" stroke-opacity="0.85"/>
<text transform="translate(339.53 87.97) scale(0.3500 0.4025)" font-size="10" font-weight="normal" text-anchor="start" fill="#3a3a3a" stroke="#3a3a3a" stroke-width="0.143">Node 1</text>
<line x1="330.10" y1="90.62" x2="339.03" y2="90.62" stroke="#f6be4a" stroke-width="0.98" stroke-opacity="0.85" stroke-dasharray="1.6 0.8 0.5 0.8"/>
<text transform="translate(339.53 91.82) scale(0.3500 0.4025)" font-size="10" font-weight="normal" text-anchor="start" fill="#3a3a3a" stroke="#3a3a3a" stroke-width="0.143">Node 2</text>
<line x1="330.10" y1="94.47" x2="339.03" y2="94.47" stroke="#a64cc0" stroke-width="0.98" stroke-opacity="0.85" stroke-dasharray="1.2 2.2"/>
<text transform="translate(339.53 95.67) scale(0.3500 0.4025)" font-size="10" font-weight="normal" text-anchor="start" fill="#3a3a3a" stroke="#3a3a3a" stroke-width="0.143">Node 3</text>
<line x1="330.10" y1="98.32" x2="339.03" y2="98.32" stroke="#96cc66" stroke-width="0.64" stroke-opacity="0.85"/>
<text transform="translate(339.53 99.52) scale(0.3500 0.4025)" font-size="10" font-weight="normal" text-anchor="start" fill="#3a3a3a" stroke="#3a3a3a" stroke-width="0.143">Node 4</text>
<text transform="translate(279.60 75.40) scale(0.5870 0.6750)" font-size="10" font-weight="bold" text-anchor="middle" fill="#111" stroke="#111" stroke-width="0.204">Trajectory of Nodes in Y Coordinate (K = 150, C = 2)</text>
<text transform="translate(195.90 95.10) rotate(-90) scale(0.5400 0.5400)" font-size="10" font-weight="bold" text-anchor="middle" fill="#111" stroke="#111" stroke-width="0.185">Displacement (m)</text>
<text transform="translate(279.10 124.00) scale(0.5550 0.6382)" font-size="10" font-weight="bold" text-anchor="middle" fill="#111" stroke="#111" stroke-width="0.180">time (s), f<tspan font-size="6.6" dy="3">s</tspan><tspan dy="-3"> = 100Hz</tspan></text>
<line x1="229.77" y1="135.10" x2="229.77" y2="170.40" stroke="#efefef" stroke-width="0.5"/>
<line x1="254.43" y1="135.10" x2="254.43" y2="170.40" stroke="#efefef" stroke-width="0.5"/>
<line x1="279.10" y1="135.10" x2="279.10" y2="170.40" stroke="#efefef" stroke-width="0.5"/>
<line x1="303.77" y1="135.10" x2="303.77" y2="170.40" stroke="#efefef" stroke-width="0.5"/>
<line x1="328.43" y1="135.10" x2="328.43" y2="170.40" stroke="#efefef" stroke-width="0.5"/>
<line x1="353.10" y1="135.10" x2="353.10" y2="170.40" stroke="#efefef" stroke-width="0.5"/>
<line x1="205.10" y1="135.10" x2="353.10" y2="135.10" stroke="#efefef" stroke-width="0.5"/>
<line x1="205.10" y1="146.87" x2="353.10" y2="146.87" stroke="#efefef" stroke-width="0.5"/>
<line x1="205.10" y1="158.63" x2="353.10" y2="158.63" stroke="#efefef" stroke-width="0.5"/>
<line x1="205.10" y1="135.10" x2="205.10" y2="170.40" stroke="#8c8c8c" stroke-width="0.5"/>
<line x1="205.10" y1="170.40" x2="353.10" y2="170.40" stroke="#8c8c8c" stroke-width="0.5"/>
<line x1="205.10" y1="170.40" x2="205.10" y2="169.20" stroke="#8c8c8c" stroke-width="0.4"/>
<text transform="translate(205.10 175.40) scale(0.4000 0.4600)" font-size="10" font-weight="normal" text-anchor="middle" fill="#1a1a1a" stroke="#1a1a1a" stroke-width="0.350">0</text>
<line x1="229.77" y1="170.40" x2="229.77" y2="169.20" stroke="#8c8c8c" stroke-width="0.4"/>
<text transform="translate(229.77 175.40) scale(0.4000 0.4600)" font-size="10" font-weight="normal" text-anchor="middle" fill="#1a1a1a" stroke="#1a1a1a" stroke-width="0.350">0.5</text>
<line x1="254.43" y1="170.40" x2="254.43" y2="169.20" stroke="#8c8c8c" stroke-width="0.4"/>
<text transform="translate(254.43 175.40) scale(0.4000 0.4600)" font-size="10" font-weight="normal" text-anchor="middle" fill="#1a1a1a" stroke="#1a1a1a" stroke-width="0.350">1</text>
<line x1="279.10" y1="170.40" x2="279.10" y2="169.20" stroke="#8c8c8c" stroke-width="0.4"/>
<text transform="translate(279.10 175.40) scale(0.4000 0.4600)" font-size="10" font-weight="normal" text-anchor="middle" fill="#1a1a1a" stroke="#1a1a1a" stroke-width="0.350">1.5</text>
<line x1="303.77" y1="170.40" x2="303.77" y2="169.20" stroke="#8c8c8c" stroke-width="0.4"/>
<text transform="translate(303.77 175.40) scale(0.4000 0.4600)" font-size="10" font-weight="normal" text-anchor="middle" fill="#1a1a1a" stroke="#1a1a1a" stroke-width="0.350">2</text>
<line x1="328.43" y1="170.40" x2="328.43" y2="169.20" stroke="#8c8c8c" stroke-width="0.4"/>
<text transform="translate(328.43 175.40) scale(0.4000 0.4600)" font-size="10" font-weight="normal" text-anchor="middle" fill="#1a1a1a" stroke="#1a1a1a" stroke-width="0.350">2.5</text>
<line x1="353.10" y1="170.40" x2="353.10" y2="169.20" stroke="#8c8c8c" stroke-width="0.4"/>
<text transform="translate(353.10 175.40) scale(0.4000 0.4600)" font-size="10" font-weight="normal" text-anchor="middle" fill="#1a1a1a" stroke="#1a1a1a" stroke-width="0.350">3</text>
<line x1="205.10" y1="135.10" x2="206.30" y2="135.10" stroke="#8c8c8c" stroke-width="0.4"/>
<text transform="translate(203.90 136.70) scale(0.4000 0.4600)" font-size="10" font-weight="normal" text-anchor="end" fill="#1a1a1a" stroke="#1a1a1a" stroke-width="0.350">0</text>
<line x1="205.10" y1="146.87" x2="206.30" y2="146.87" stroke="#8c8c8c" stroke-width="0.4"/>
<text transform="translate(203.90 148.47) scale(0.4000 0.4600)" font-size="10" font-weight="normal" text-anchor="end" fill="#1a1a1a" stroke="#1a1a1a" stroke-width="0.350">-0.1</text>
<line x1="205.10" y1="158.63" x2="206.30" y2="158.63" stroke="#8c8c8c" stroke-width="0.4"/>
<text transform="translate(203.90 160.23) scale(0.4000 0.4600)" font-size="10" font-weight="normal" text-anchor="end" fill="#1a1a1a" stroke="#1a1a1a" stroke-width="0.350">-0.2</text>
<line x1="205.10" y1="170.40" x2="206.30" y2="170.40" stroke="#8c8c8c" stroke-width="0.4"/>
<text transform="translate(203.90 172.00) scale(0.4000 0.4600)" font-size="10" font-weight="normal" text-anchor="end" fill="#1a1a1a" stroke="#1a1a1a" stroke-width="0.350">-0.3</text>
<clipPath id="c5"><rect x="205.1" y="133.1" width="148.00000000000003" height="37.30000000000001"/></clipPath>
<path d="M205.1 152.0L235.7 152.0L238.2 151.6L241.1 151.0L250.5 148.3L256.9 147.3L267.8 145.9L280.6 145.8L283.0 146.0L285.0 146.4L287.5 147.5L297.8 152.4L302.8 154.1L305.7 154.8L307.7 154.9L309.7 154.9L326.0 153.4L337.3 153.3" fill="none" stroke="#3399dd" stroke-width="1.05" stroke-linejoin="round" clip-path="url(#c5)"/>
<path d="M205.1 154.3L232.7 154.3L236.2 154.1L239.6 153.5L251.5 150.1L257.9 148.7L260.8 148.3L265.8 147.9L273.7 147.8L282.6 148.1L284.5 148.4L286.5 148.9L289.0 149.8L290.9 150.6L296.9 154.2L299.8 155.6L303.8 157.2L306.2 157.8L307.7 157.9L309.7 157.8L317.1 157.0L326.5 156.2L337.3 155.7" fill="none" stroke="#f65e26" stroke-width="1.3" stroke-linejoin="round" clip-path="url(#c5)"/>
<path d="M205.1 160.9L229.8 161.0L232.2 161.1L235.2 161.6L237.7 161.6L239.1 160.5L240.6 160.3L241.1 160.1L242.6 158.4L244.6 157.7L246.0 155.9L248.0 155.1L249.5 153.4L251.5 153.1L253.0 151.8L254.9 151.8L256.4 150.7L258.4 151.0L259.9 150.2L261.8 151.1L263.3 150.6L265.3 151.7L266.8 151.2L268.7 152.3L270.2 151.9L272.2 153.0L273.7 152.7L275.6 153.8L277.1 153.4L279.1 154.5L280.6 154.1L282.6 155.2L284.0 154.9L286.0 156.2L287.5 156.1L289.5 157.9L290.9 158.4L292.9 160.8L294.4 161.3L296.4 163.4L297.8 163.7L299.8 165.7L301.3 165.8L303.3 167.4L304.8 167.2L306.7 168.5L308.2 168.0L309.7 168.6L310.2 168.6L311.7 167.5L313.1 167.6L313.6 167.6L315.1 166.3L317.1 166.2L318.6 164.8L320.5 164.7L322.0 163.5L324.0 163.9L325.5 163.1L327.4 163.7L328.9 163.0L330.9 163.6L332.4 162.9L334.4 163.6L335.8 162.9L337.3 163.5" fill="none" stroke="#96cc66" stroke-width="0.75" stroke-linejoin="round" clip-path="url(#c5)"/>
<path d="M205.1 156.2L233.2 156.2L236.7 156.0L239.1 155.6L241.6 154.9L244.6 153.9L249.5 151.6L253.4 150.6L256.4 150.1L259.9 149.7L265.3 149.4L270.2 149.4L274.2 149.5L278.6 150.0L282.6 150.6L285.0 151.2L288.0 152.4L291.4 153.9L303.8 160.2L305.2 160.7L306.7 161.1L309.7 161.1L315.1 160.5L318.6 159.9L325.0 158.5L327.9 158.0L332.9 157.6L337.3 157.5" fill="none" stroke="#f6be4a" stroke-width="1.15" stroke-linejoin="round" stroke-dasharray="3 0.6" clip-path="url(#c5)"/>
<path d="M205.1 158.6L233.2 158.6L236.2 158.5L237.2 158.2L238.6 158.1L240.6 156.9L242.1 156.6L244.1 155.1L245.6 154.7L247.5 153.2L249.0 152.9L251.0 151.7L252.5 151.6L254.4 150.6L255.9 150.6L257.9 149.9L259.4 150.2L261.3 149.8L262.8 150.2L264.8 149.9L266.3 150.5L268.2 150.4L269.7 151.1L271.7 151.2L273.2 151.9L275.2 151.9L276.6 152.6L278.6 152.5L280.1 153.1L282.1 153.0L283.5 153.6L285.5 153.6L287.0 154.4L289.0 154.9L290.4 156.2L292.4 157.4L293.9 158.9L295.9 159.9L297.4 161.4L299.3 162.3L300.8 163.5L301.3 163.6L302.8 163.7L304.3 164.4L306.2 164.1L307.7 164.6L309.7 164.3L311.2 164.6L313.1 164.0L314.6 164.2L316.6 163.3L318.1 163.3L320.0 162.4L321.5 162.5L323.5 161.6L325.0 161.7L327.0 160.9L328.4 161.1L330.4 160.5L331.9 160.8L333.9 160.3L335.3 160.6L337.3 160.2" fill="none" stroke="#a64cc0" stroke-width="1.15" stroke-linejoin="round" stroke-dasharray="1.3 1.6" clip-path="url(#c5)"/>
<rect x="328.70" y="137.30" width="23.20" height="22.20" fill="#fff" stroke="#b8b8b8" stroke-width="0.5"/>
<line x1="330.32" y1="140.12" x2="339.37" y2="140.12" stroke="#3399dd" stroke-width="0.89" stroke-opacity="0.85"/>
<text transform="translate(339.87 141.32) scale(0.3500 0.4025)" font-size="10" font-weight="normal" text-anchor="start" fill="#3a3a3a" stroke="#3a3a3a" stroke-width="0.143">Base</text>
<line x1="330.32" y1="144.27" x2="339.37" y2="144.27" stroke="#f65e26" stroke-width="1.10" stroke-opacity="0.85"/>
<text transform="translate(339.87 145.47) scale(0.3500 0.4025)" font-size="10" font-weight="normal" text-anchor="start" fill="#3a3a3a" stroke="#3a3a3a" stroke-width="0.143">Node 1</text>
<line x1="330.32" y1="148.42" x2="339.37" y2="148.42" stroke="#f6be4a" stroke-width="0.98" stroke-opacity="0.85" stroke-dasharray="1.6 0.8 0.5 0.8"/>
<text transform="translate(339.87 149.62) scale(0.3500 0.4025)" font-size="10" font-weight="normal" text-anchor="start" fill="#3a3a3a" stroke="#3a3a3a" stroke-width="0.143">Node 2</text>
<line x1="330.32" y1="152.57" x2="339.37" y2="152.57" stroke="#a64cc0" stroke-width="0.98" stroke-opacity="0.85" stroke-dasharray="1.2 2.2"/>
<text transform="translate(339.87 153.77) scale(0.3500 0.4025)" font-size="10" font-weight="normal" text-anchor="start" fill="#3a3a3a" stroke="#3a3a3a" stroke-width="0.143">Node 3</text>
<line x1="330.32" y1="156.72" x2="339.37" y2="156.72" stroke="#96cc66" stroke-width="0.64" stroke-opacity="0.85"/>
<text transform="translate(339.87 157.92) scale(0.3500 0.4025)" font-size="10" font-weight="normal" text-anchor="start" fill="#3a3a3a" stroke="#3a3a3a" stroke-width="0.143">Node 4</text>
<text transform="translate(279.30 132.90) scale(0.5470 0.6290)" font-size="10" font-weight="bold" text-anchor="middle" fill="#111" stroke="#111" stroke-width="0.219">Trajectory of Nodes in Z Coordinate (K = 150, C = 2)</text>
<text transform="translate(196.20 152.75) rotate(-90) scale(0.4650 0.4650)" font-size="10" font-weight="bold" text-anchor="middle" fill="#111" stroke="#111" stroke-width="0.215">Displacement (m)</text>
<text transform="translate(279.10 180.50) scale(0.4650 0.5347)" font-size="10" font-weight="bold" text-anchor="middle" fill="#111" stroke="#111" stroke-width="0.215">time (s), f<tspan font-size="6.6" dy="3">s</tspan><tspan dy="-3"> = 100Hz</tspan></text>
<line x1="374.60" y1="144.30" x2="374.60" y2="64.80" stroke="#e6e6e6" stroke-width="0.5"/>
<line x1="381.29" y1="138.59" x2="381.29" y2="59.09" stroke="#e6e6e6" stroke-width="0.5"/>
<line x1="387.97" y1="132.87" x2="387.97" y2="53.37" stroke="#e6e6e6" stroke-width="0.5"/>
<line x1="394.66" y1="127.16" x2="394.66" y2="47.66" stroke="#e6e6e6" stroke-width="0.5"/>
<line x1="401.34" y1="121.44" x2="401.34" y2="41.94" stroke="#e6e6e6" stroke-width="0.5"/>
<line x1="408.03" y1="115.73" x2="408.03" y2="36.23" stroke="#e6e6e6" stroke-width="0.5"/>
<line x1="414.71" y1="110.01" x2="414.71" y2="30.51" stroke="#e6e6e6" stroke-width="0.5"/>
<line x1="421.40" y1="104.30" x2="421.40" y2="24.80" stroke="#e6e6e6" stroke-width="0.5"/>
<line x1="374.60" y1="144.30" x2="421.40" y2="104.30" stroke="#e6e6e6" stroke-width="0.5"/>
<line x1="374.60" y1="128.40" x2="421.40" y2="88.40" stroke="#e6e6e6" stroke-width="0.5"/>
<line x1="374.60" y1="112.50" x2="421.40" y2="72.50" stroke="#e6e6e6" stroke-width="0.5"/>
<line x1="374.60" y1="96.60" x2="421.40" y2="56.60" stroke="#e6e6e6" stroke-width="0.5"/>
<line x1="374.60" y1="80.70" x2="421.40" y2="40.70" stroke="#e6e6e6" stroke-width="0.5"/>
<line x1="374.60" y1="64.80" x2="421.40" y2="24.80" stroke="#e6e6e6" stroke-width="0.5"/>
<line x1="421.40" y1="104.30" x2="421.40" y2="24.80" stroke="#e6e6e6" stroke-width="0.5"/>
<line x1="437.24" y1="108.90" x2="437.24" y2="29.40" stroke="#e6e6e6" stroke-width="0.5"/>
<line x1="453.08" y1="113.50" x2="453.08" y2="34.00" stroke="#e6e6e6" stroke-width="0.5"/>
<line x1="468.92" y1="118.10" x2="468.92" y2="38.60" stroke="#e6e6e6" stroke-width="0.5"/>
<line x1="484.76" y1="122.70" x2="484.76" y2="43.20" stroke="#e6e6e6" stroke-width="0.5"/>
<line x1="500.60" y1="127.30" x2="500.60" y2="47.80" stroke="#e6e6e6" stroke-width="0.5"/>
<line x1="421.40" y1="104.30" x2="500.60" y2="127.30" stroke="#e6e6e6" stroke-width="0.5"/>
<line x1="421.40" y1="88.40" x2="500.60" y2="111.40" stroke="#e6e6e6" stroke-width="0.5"/>
<line x1="421.40" y1="72.50" x2="500.60" y2="95.50" stroke="#e6e6e6" stroke-width="0.5"/>
<line x1="421.40" y1="56.60" x2="500.60" y2="79.60" stroke="#e6e6e6" stroke-width="0.5"/>
<line x1="421.40" y1="40.70" x2="500.60" y2="63.70" stroke="#e6e6e6" stroke-width="0.5"/>
<line x1="421.40" y1="24.80" x2="500.60" y2="47.80" stroke="#e6e6e6" stroke-width="0.5"/>
<line x1="374.60" y1="144.30" x2="421.40" y2="104.30" stroke="#e6e6e6" stroke-width="0.5"/>
<line x1="390.44" y1="148.90" x2="437.24" y2="108.90" stroke="#e6e6e6" stroke-width="0.5"/>
<line x1="406.28" y1="153.50" x2="453.08" y2="113.50" stroke="#e6e6e6" stroke-width="0.5"/>
<line x1="422.12" y1="158.10" x2="468.92" y2="118.10" stroke="#e6e6e6" stroke-width="0.5"/>
<line x1="437.96" y1="162.70" x2="484.76" y2="122.70" stroke="#e6e6e6" stroke-width="0.5"/>
<line x1="453.80" y1="167.30" x2="500.60" y2="127.30" stroke="#e6e6e6" stroke-width="0.5"/>
<line x1="374.60" y1="144.30" x2="453.80" y2="167.30" stroke="#e6e6e6" stroke-width="0.5"/>
<line x1="381.29" y1="138.59" x2="460.49" y2="161.59" stroke="#e6e6e6" stroke-width="0.5"/>
<line x1="387.97" y1="132.87" x2="467.17" y2="155.87" stroke="#e6e6e6" stroke-width="0.5"/>
<line x1="394.66" y1="127.16" x2="473.86" y2="150.16" stroke="#e6e6e6" stroke-width="0.5"/>
<line x1="401.34" y1="121.44" x2="480.54" y2="144.44" stroke="#e6e6e6" stroke-width="0.5"/>
<line x1="408.03" y1="115.73" x2="487.23" y2="138.73" stroke="#e6e6e6" stroke-width="0.5"/>
<line x1="414.71" y1="110.01" x2="493.91" y2="133.01" stroke="#e6e6e6" stroke-width="0.5"/>
<line x1="421.40" y1="104.30" x2="500.60" y2="127.30" stroke="#e6e6e6" stroke-width="0.5"/>
<line x1="374.60" y1="144.30" x2="374.60" y2="64.80" stroke="#8a8a8a" stroke-width="0.5"/>
<line x1="374.60" y1="144.30" x2="453.80" y2="167.30" stroke="#8a8a8a" stroke-width="0.5"/>
<line x1="453.80" y1="167.30" x2="500.60" y2="127.30" stroke="#8a8a8a" stroke-width="0.5"/>
<line x1="374.60" y1="144.30" x2="375.80" y2="144.65" stroke="#8a8a8a" stroke-width="0.4"/>
<text transform="translate(372.00 145.30) scale(0.4000 0.4600)" font-size="10" font-weight="normal" text-anchor="end" fill="#1a1a1a" stroke="#1a1a1a" stroke-width="0.350">-0.3</text>
<line x1="374.60" y1="128.40" x2="375.80" y2="128.75" stroke="#8a8a8a" stroke-width="0.4"/>
<text transform="translate(372.00 129.40) scale(0.4000 0.4600)" font-size="10" font-weight="normal" text-anchor="end" fill="#1a1a1a" stroke="#1a1a1a" stroke-width="0.350">-0.25</text>
<line x1="374.60" y1="112.50" x2="375.80" y2="112.85" stroke="#8a8a8a" stroke-width="0.4"/>
<text transform="translate(372.00 113.50) scale(0.4000 0.4600)" font-size="10" font-weight="normal" text-anchor="end" fill="#1a1a1a" stroke="#1a1a1a" stroke-width="0.350">-0.2</text>
<line x1="374.60" y1="96.60" x2="375.80" y2="96.95" stroke="#8a8a8a" stroke-width="0.4"/>
<text transform="translate(372.00 97.60) scale(0.4000 0.4600)" font-size="10" font-weight="normal" text-anchor="end" fill="#1a1a1a" stroke="#1a1a1a" stroke-width="0.350">-0.15</text>
<line x1="374.60" y1="80.70" x2="375.80" y2="81.05" stroke="#8a8a8a" stroke-width="0.4"/>
<text transform="translate(372.00 81.70) scale(0.4000 0.4600)" font-size="10" font-weight="normal" text-anchor="end" fill="#1a1a1a" stroke="#1a1a1a" stroke-width="0.350">-0.1</text>
<line x1="374.60" y1="64.80" x2="375.80" y2="65.15" stroke="#8a8a8a" stroke-width="0.4"/>
<text transform="translate(372.00 65.80) scale(0.4000 0.4600)" font-size="10" font-weight="normal" text-anchor="end" fill="#1a1a1a" stroke="#1a1a1a" stroke-width="0.350">-0.05</text>
<line x1="374.60" y1="144.30" x2="375.30" y2="143.70" stroke="#8a8a8a" stroke-width="0.4"/>
<text transform="translate(370.20 150.50) scale(0.4000 0.4600)" font-size="10" font-weight="normal" text-anchor="middle" fill="#1a1a1a" stroke="#1a1a1a" stroke-width="0.350">-0.1</text>
<line x1="390.44" y1="148.90" x2="391.14" y2="148.30" stroke="#8a8a8a" stroke-width="0.4"/>
<text transform="translate(386.04 155.10) scale(0.4000 0.4600)" font-size="10" font-weight="normal" text-anchor="middle" fill="#1a1a1a" stroke="#1a1a1a" stroke-width="0.350">0</text>
<line x1="406.28" y1="153.50" x2="406.98" y2="152.90" stroke="#8a8a8a" stroke-width="0.4"/>
<text transform="translate(401.88 159.70) scale(0.4000 0.4600)" font-size="10" font-weight="normal" text-anchor="middle" fill="#1a1a1a" stroke="#1a1a1a" stroke-width="0.350">0.1</text>
<line x1="422.12" y1="158.10" x2="422.82" y2="157.50" stroke="#8a8a8a" stroke-width="0.4"/>
<text transform="translate(417.72 164.30) scale(0.4000 0.4600)" font-size="10" font-weight="normal" text-anchor="middle" fill="#1a1a1a" stroke="#1a1a1a" stroke-width="0.350">0.2</text>
<line x1="437.96" y1="162.70" x2="438.66" y2="162.10" stroke="#8a8a8a" stroke-width="0.4"/>
<text transform="translate(433.56 168.90) scale(0.4000 0.4600)" font-size="10" font-weight="normal" text-anchor="middle" fill="#1a1a1a" stroke="#1a1a1a" stroke-width="0.350">0.3</text>
<line x1="453.80" y1="167.30" x2="454.50" y2="166.70" stroke="#8a8a8a" stroke-width="0.4"/>
<text transform="translate(449.40 173.50) scale(0.4000 0.4600)" font-size="10" font-weight="normal" text-anchor="middle" fill="#1a1a1a" stroke="#1a1a1a" stroke-width="0.350">0.4</text>
<line x1="453.80" y1="167.30" x2="452.70" y2="167.00" stroke="#8a8a8a" stroke-width="0.4"/>
<text transform="translate(456.80 171.90) scale(0.4000 0.4600)" font-size="10" font-weight="normal" text-anchor="start" fill="#1a1a1a" stroke="#1a1a1a" stroke-width="0.350">0.7</text>
<line x1="460.49" y1="161.59" x2="459.39" y2="161.29" stroke="#8a8a8a" stroke-width="0.4"/>
<text transform="translate(463.49 166.19) scale(0.4000 0.4600)" font-size="10" font-weight="normal" text-anchor="start" fill="#1a1a1a" stroke="#1a1a1a" stroke-width="0.350">0.8</text>
<line x1="467.17" y1="155.87" x2="466.07" y2="155.57" stroke="#8a8a8a" stroke-width="0.4"/>
<text transform="translate(470.17 160.47) scale(0.4000 0.4600)" font-size="10" font-weight="normal" text-anchor="start" fill="#1a1a1a" stroke="#1a1a1a" stroke-width="0.350">0.9</text>
<line x1="473.86" y1="150.16" x2="472.76" y2="149.86" stroke="#8a8a8a" stroke-width="0.4"/>
<text transform="translate(476.86 154.76) scale(0.4000 0.4600)" font-size="10" font-weight="normal" text-anchor="start" fill="#1a1a1a" stroke="#1a1a1a" stroke-width="0.350">1</text>
<line x1="480.54" y1="144.44" x2="479.44" y2="144.14" stroke="#8a8a8a" stroke-width="0.4"/>
<text transform="translate(483.54 149.04) scale(0.4000 0.4600)" font-size="10" font-weight="normal" text-anchor="start" fill="#1a1a1a" stroke="#1a1a1a" stroke-width="0.350">1.1</text>
<line x1="487.23" y1="138.73" x2="486.13" y2="138.43" stroke="#8a8a8a" stroke-width="0.4"/>
<text transform="translate(490.23 143.33) scale(0.4000 0.4600)" font-size="10" font-weight="normal" text-anchor="start" fill="#1a1a1a" stroke="#1a1a1a" stroke-width="0.350">1.2</text>
<line x1="493.91" y1="133.01" x2="492.81" y2="132.71" stroke="#8a8a8a" stroke-width="0.4"/>
<text transform="translate(496.91 137.61) scale(0.4000 0.4600)" font-size="10" font-weight="normal" text-anchor="start" fill="#1a1a1a" stroke="#1a1a1a" stroke-width="0.350">1.3</text>
<line x1="500.60" y1="127.30" x2="499.50" y2="127.00" stroke="#8a8a8a" stroke-width="0.4"/>
<text transform="translate(503.60 131.90) scale(0.4000 0.4600)" font-size="10" font-weight="normal" text-anchor="start" fill="#1a1a1a" stroke="#1a1a1a" stroke-width="0.350">1.4</text>
<text transform="translate(412.00 174.30) scale(0.5300 0.6095)" font-size="10" font-weight="bold" text-anchor="middle" fill="#111" stroke="#111" stroke-width="0.189">x (m)</text>
<text transform="translate(489.50 162.90) scale(0.5300 0.6095)" font-size="10" font-weight="bold" text-anchor="middle" fill="#111" stroke="#111" stroke-width="0.189">y (m)</text>
<text transform="translate(361.20 103.60) rotate(-90) scale(0.5300 0.5300)" font-size="10" font-weight="bold" text-anchor="middle" fill="#111" stroke="#111" stroke-width="0.189">z (m)</text>
<path d="M423.1 98.3L420.7 97.2L418.5 95.9L416.7 94.3L415.1 92.6L413.9 90.6L412.8 88.2L412.2 86.0L412.0 83.4L412.1 80.7L412.6 78.0L413.4 75.4L414.7 72.6L416.1 70.3L418.0 67.8L419.8 65.8L422.2 63.7L424.5 62.1L427.2 60.4L430.2 59.0L433.3 57.8L436.1 57.0L439.4 56.2L442.7 55.7L446.1 55.5L449.5 55.5L452.8 55.8L456.0 56.3L458.7 57.0L461.7 58.1L464.1 59.3L466.8 60.9L468.8 62.5L470.7 64.3L472.4 66.3L473.9 68.6L475.1 71.0L476.1 73.6L477.0 76.8L477.4 79.6L477.7 83.0L477.7 86.3L477.4 89.2L476.7 92.4L475.9 95.1L474.9 97.6L473.6 100.0L472.1 102.1L470.4 104.1L468.7 105.5L467.0 106.7L465.0 107.7L462.5 108.6L459.9 109.3L457.1 109.8L454.3 110.0L451.4 110.0L448.4 109.8L445.0 109.3L441.7 108.6L438.4 107.6L435.3 106.5L432.4 105.2L429.8 103.7L427.8 102.3" fill="none" stroke="#3399dd" stroke-width="1.05" stroke-linejoin="round"/>
<path d="M420.0 105.8L416.7 104.0L415.1 102.8L412.9 100.6L410.7 97.9L409.9 96.0L408.9 92.7L408.2 89.3L408.1 87.8L408.2 85.9L408.8 81.0L409.2 79.6L410.4 76.5L412.0 73.4L413.9 70.6L415.9 68.4L418.0 66.4L420.7 64.3L422.0 63.6L424.6 62.3L427.8 61.1L429.7 60.5L433.6 59.7L440.7 59.2L443.8 59.5L445.8 59.9L450.4 60.4L453.8 61.2L457.6 62.4L461.2 63.9L463.7 65.4L466.1 67.2L468.4 69.6L470.4 71.8L473.8 77.3L475.0 80.7L476.0 84.1L476.6 87.6L476.8 93.8L476.8 95.8L476.4 99.7L475.9 101.6L474.6 105.2L473.1 108.2L471.6 110.5L470.4 111.9L470.0 112.2L469.8 112.5L468.0 114.0L466.9 114.9L465.3 115.8L461.9 117.4L459.1 118.3L457.2 118.7L451.2 119.3L449.7 119.3L447.2 119.1L445.1 118.6L444.1 118.5L442.6 118.1L440.6 117.7L438.2 116.8L430.3 113.2L427.7 111.8L424.6 109.7" fill="none" stroke="#f65e26" stroke-width="1.3" stroke-linejoin="round"/>
<path d="M407.9 126.2L406.8 124.2L406.4 123.8L406.4 123.1L406.2 122.5L406.1 121.2L404.3 118.8L403.7 118.4L403.6 117.7L403.4 117.2L402.8 116.8L401.7 113.9L401.6 113.2L401.1 112.8L400.7 111.6L399.8 109.9L399.6 108.6L398.8 106.2L398.8 104.9L398.1 102.5L398.2 101.8L398.0 101.2L398.1 100.6L397.7 100.0L397.6 99.4L397.7 98.1L397.6 96.9L397.0 95.0L397.1 94.4L396.9 93.1L397.0 90.5L397.3 89.3L397.3 88.6L398.0 87.5L398.3 84.9L399.3 82.6L399.3 81.9L400.0 80.9L401.2 77.3L401.7 76.8L402.4 75.0L402.8 74.6L403.1 74.1L404.5 72.8L405.2 71.8L406.3 71.3L407.8 70.2L409.4 69.5L410.6 68.3L411.2 68.2L412.1 67.4L413.2 66.9L413.7 66.5L414.9 66.3L415.5 66.4L416.0 66.2L417.3 66.4L417.9 66.2L418.5 66.4L419.7 66.3L421.6 66.4L422.8 66.3L423.4 66.5L424.8 66.3L426.0 66.6L426.7 66.6L427.3 66.7L429.2 66.8L431.0 67.6L431.6 67.6L432.2 67.8L432.9 67.8L434.6 68.6L435.3 68.5L437.7 69.1L438.8 69.8L440.1 69.7L440.6 70.0L441.3 70.0L442.4 70.7L443.6 71.0L444.2 71.0L444.8 71.3L446.5 71.9L447.8 72.2L448.3 72.6L448.9 72.6L449.5 72.8L450.1 72.9L451.8 73.5L453.8 73.6L454.3 74.1L455.3 74.9L457.0 75.5L457.6 75.8L458.0 76.4L459.7 77.2L460.5 78.2L461.0 78.5L462.7 80.4L463.2 80.8L463.5 81.4L465.2 82.3L465.9 83.3L466.9 84.0L467.2 84.6L467.8 84.9L468.1 85.5L468.4 86.8L469.1 87.8L469.5 88.9L470.4 89.8L471.5 91.3L472.2 93.0L472.7 93.5L472.9 94.0L473.0 94.7L473.3 95.2L473.7 97.6L474.0 98.2L473.9 99.4L474.1 100.6L474.5 101.7L474.8 103.5L475.0 104.1L474.9 104.7L475.0 105.4L474.9 106.6L474.6 107.2L474.7 109.1L474.5 109.7L474.6 110.3L474.2 112.1L474.2 112.8L474.0 113.4L474.0 114.0L473.9 114.7L474.1 115.3L473.9 116.6L474.2 117.9L474.2 120.5L474.1 121.1L474.1 122.4L473.6 123.6L473.5 124.9L472.9 126.1L472.6 127.4L472.5 128.7L472.6 129.3L472.1 130.5L472.1 131.8L471.8 133.1L471.0 134.2L470.4 135.9L470.3 136.6L469.2 138.1L468.4 140.4L467.4 141.8L467.2 142.4L466.7 142.7L466.1 143.7L465.2 144.5L463.8 145.6L463.2 145.7L462.8 146.2L461.6 146.5L460.0 147.2L458.8 147.5L457.7 148.0L457.2 148.4L456.6 148.6L455.9 148.4L452.8 148.9L450.9 148.8L449.0 149.0L447.8 148.5L446.5 148.3L445.3 147.9L443.4 147.6L442.7 147.7L442.1 147.6L441.5 147.2L440.3 147.1L439.7 146.9L439.2 146.5L437.5 145.6L436.2 145.4L435.1 144.9L433.8 144.7L431.3 142.9L430.9 142.4L430.3 142.1L429.5 141.2L427.7 140.5L426.6 139.9L426.0 139.7L425.0 138.9L424.0 138.2L422.9 136.6L421.4 135.5L420.8 135.2L419.3 134.2L417.5 133.5L417.1 133.0L416.5 132.8L416.0 132.4L414.5 131.4" fill="none" stroke="#96cc66" stroke-width="0.75" stroke-linejoin="round"/>
<path d="M416.2 111.4L414.8 110.7L413.2 109.4L412.3 108.8L410.1 105.8L409.3 104.5L408.3 103.3L407.4 101.9L406.6 99.9L405.9 97.8L405.3 93.0L404.9 91.9L404.8 89.2L405.0 88.2L405.5 86.1L405.8 84.5L405.7 82.9L405.9 81.9L405.9 80.8L406.4 79.3L407.1 78.4L408.0 76.5L409.8 74.0L410.0 73.5L411.0 72.3L411.3 71.8L412.3 70.6L416.5 66.8L417.8 65.9L418.8 65.5L420.3 65.0L421.7 64.3L423.6 63.7L424.6 63.2L427.1 62.5L428.6 62.3L429.6 62.0L430.1 61.9L430.7 62.0L431.7 61.9L432.3 61.7L434.9 61.9L438.2 61.8L439.8 61.9L441.5 62.2L442.5 62.7L443.6 62.8L444.1 63.0L446.9 63.2L448.5 63.7L449.0 63.7L453.6 65.6L455.2 65.8L455.7 66.1L457.3 66.4L459.5 67.9L459.9 68.1L461.1 69.1L464.5 71.3L465.5 71.8L467.3 73.5L469.5 76.2L470.5 78.0L471.6 80.2L472.6 82.0L473.6 84.4L473.9 86.0L474.4 87.5L474.5 88.0L474.8 88.5L475.0 89.5L475.4 90.5L475.6 91.6L475.6 93.3L475.9 94.9L475.7 97.2L475.5 101.7L475.7 102.8L475.2 105.0L475.2 107.3L474.9 108.4L474.9 109.5L474.7 110.0L473.6 112.5L473.5 113.1L473.2 114.1L472.9 114.5L471.7 117.5L469.5 120.8L468.7 121.5L467.5 123.1L466.7 123.6L465.8 124.0L465.1 124.8L464.0 125.8L462.3 126.8L460.8 127.3L459.8 127.4L459.4 127.8L458.5 128.1L451.4 129.5L450.3 129.3L447.7 129.0L446.7 128.8L446.2 128.7L445.6 128.8L443.5 128.2L442.5 127.7L442.0 127.7L441.0 127.2L439.8 127.1L437.7 126.4L437.3 126.1L436.3 125.6L435.4 124.9L434.5 124.3L430.9 122.9L429.9 122.4L427.2 120.7L424.4 119.3L422.8 118.1L421.5 117.5" fill="none" stroke="#f6be4a" stroke-width="1.15" stroke-linejoin="round" stroke-dasharray="3 0.6"/>
<path d="M413.0 119.2L412.3 118.2L411.1 117.1L410.9 116.5L408.1 113.6L407.5 112.7L405.9 109.0L404.9 107.6L404.7 107.0L403.3 105.2L402.9 103.5L401.9 101.4L401.3 99.2L401.1 97.5L401.2 96.9L401.0 94.0L401.2 92.2L400.9 90.5L401.0 89.9L400.9 88.7L401.1 87.5L401.0 86.3L401.1 84.4L401.3 83.8L401.6 83.3L401.7 82.1L401.9 81.5L402.3 81.0L403.4 78.8L403.4 78.1L403.6 77.5L404.2 76.5L405.5 73.8L406.5 73.1L407.1 72.2L408.0 71.5L408.3 71.0L409.1 70.2L409.4 69.8L410.3 69.1L411.4 67.9L411.8 67.6L412.4 67.5L413.7 66.5L414.1 66.3L415.7 65.9L416.3 65.8L416.7 65.4L417.7 65.0L418.2 65.1L419.8 64.5L420.4 64.6L420.9 64.4L422.6 64.5L423.1 64.3L424.3 64.3L424.8 64.1L426.0 64.2L427.7 64.0L430.1 64.4L430.7 64.3L431.9 64.4L436.0 65.3L436.6 65.3L438.4 65.6L439.7 65.6L440.2 65.9L442.5 66.7L443.8 66.6L445.0 66.9L446.2 66.8L446.8 67.1L447.5 67.0L448.0 67.2L449.6 68.2L450.7 68.5L451.2 68.8L451.8 69.0L452.7 69.8L454.2 70.6L458.5 72.3L459.9 73.2L460.7 73.9L461.8 74.3L463.4 75.0L465.2 76.4L466.7 78.8L467.2 79.1L469.5 82.9L470.5 85.0L471.0 86.6L471.7 87.5L471.8 88.1L472.1 88.6L472.5 89.7L473.3 91.2L473.4 92.4L473.6 92.9L473.7 93.5L474.4 95.1L474.5 96.3L474.8 96.8L475.0 98.6L474.9 99.2L475.2 101.5L475.0 102.1L475.3 102.7L475.7 104.4L475.5 106.8L475.8 107.4L475.4 108.6L475.1 109.1L475.0 109.7L475.1 110.3L474.9 110.9L475.1 111.5L475.0 112.1L474.5 113.2L474.7 114.4L474.3 115.6L474.4 116.2L474.2 116.7L473.9 118.5L473.4 119.6L473.4 120.2L472.8 121.9L472.6 123.1L471.3 125.8L470.3 127.3L469.8 128.3L469.8 129.0L468.5 132.2L467.9 133.1L465.5 135.4L465.0 135.6L464.6 135.9L463.7 136.5L463.3 136.9L461.9 137.7L461.4 137.8L460.9 138.1L460.3 138.2L459.9 138.5L459.3 138.7L458.2 138.7L455.4 139.7L454.8 139.5L453.1 139.8L452.5 139.6L451.3 139.6L448.3 139.1L447.7 138.9L444.2 138.1L443.6 138.1L443.0 137.8L441.3 137.4L439.2 136.4L437.6 135.8L436.1 134.9L434.4 134.5L433.5 133.8L431.3 133.1L430.5 132.2L428.9 131.6L428.2 130.6L426.3 129.2L425.5 128.4L424.4 127.9L423.8 127.8L421.4 126.2L420.8 126.0L418.4 124.4" fill="none" stroke="#a64cc0" stroke-width="1.15" stroke-linejoin="round" stroke-dasharray="1.3 1.6"/>
<rect x="508.20" y="85.80" width="22.40" height="21.60" fill="#fff" stroke="#b8b8b8" stroke-width="0.5"/>
<line x1="509.77" y1="88.55" x2="518.50" y2="88.55" stroke="#3399dd" stroke-width="0.89" stroke-opacity="0.85"/>
<text transform="translate(519.00 89.75) scale(0.3400 0.3910)" font-size="10" font-weight="normal" text-anchor="start" fill="#3a3a3a" stroke="#3a3a3a" stroke-width="0.147">Base</text>
<line x1="509.77" y1="92.58" x2="518.50" y2="92.58" stroke="#f65e26" stroke-width="1.10" stroke-opacity="0.85"/>
<text transform="translate(519.00 93.78) scale(0.3400 0.3910)" font-size="10" font-weight="normal" text-anchor="start" fill="#3a3a3a" stroke="#3a3a3a" stroke-width="0.147">Node 1</text>
<line x1="509.77" y1="96.62" x2="518.50" y2="96.62" stroke="#f6be4a" stroke-width="0.98" stroke-opacity="0.85" stroke-dasharray="1.6 0.8 0.5 0.8"/>
<text transform="translate(519.00 97.82) scale(0.3400 0.3910)" font-size="10" font-weight="normal" text-anchor="start" fill="#3a3a3a" stroke="#3a3a3a" stroke-width="0.147">Node 2</text>
<line x1="509.77" y1="100.66" x2="518.50" y2="100.66" stroke="#a64cc0" stroke-width="0.98" stroke-opacity="0.85" stroke-dasharray="1.2 2.2"/>
<text transform="translate(519.00 101.86) scale(0.3400 0.3910)" font-size="10" font-weight="normal" text-anchor="start" fill="#3a3a3a" stroke="#3a3a3a" stroke-width="0.147">Node 3</text>
<line x1="509.77" y1="104.69" x2="518.50" y2="104.69" stroke="#96cc66" stroke-width="0.64" stroke-opacity="0.85"/>
<text transform="translate(519.00 105.89) scale(0.3400 0.3910)" font-size="10" font-weight="normal" text-anchor="start" fill="#3a3a3a" stroke="#3a3a3a" stroke-width="0.147">Node 4</text>
<text transform="translate(437.40 22.60) scale(0.5850 0.6727)" font-size="10" font-weight="bold" text-anchor="middle" fill="#111" stroke="#111" stroke-width="0.205">Trajectory of Nodes in 3d space(K = 150, C = 2)</text>
<text transform="translate(359.60 12.10) scale(0.8400 0.8400)" font-size="10" font-weight="bold" text-anchor="start" fill="#000" stroke="#000" stroke-width="0.417">(c)</text>
<rect x="3" y="200.5" width="543.3" height="193.5" fill="none" stroke="#3a3a3a" stroke-width="1.5"/>
<text transform="translate(6.20 209.60) scale(0.8400 0.8400)" font-size="10" font-weight="bold" text-anchor="start" fill="#000" stroke="#000" stroke-width="0.417">(d)</text>
<text transform="translate(189.70 209.60) scale(0.8400 0.8400)" font-size="10" font-weight="bold" text-anchor="start" fill="#000" stroke="#000" stroke-width="0.417">(e)</text>
<line x1="53.32" y1="215.74" x2="53.32" y2="281.20" stroke="#efefef" stroke-width="0.5"/>
<line x1="77.93" y1="215.74" x2="77.93" y2="281.20" stroke="#efefef" stroke-width="0.5"/>
<line x1="102.55" y1="215.74" x2="102.55" y2="281.20" stroke="#efefef" stroke-width="0.5"/>
<line x1="127.17" y1="215.74" x2="127.17" y2="281.20" stroke="#efefef" stroke-width="0.5"/>
<line x1="151.78" y1="215.74" x2="151.78" y2="281.20" stroke="#efefef" stroke-width="0.5"/>
<line x1="176.40" y1="215.74" x2="176.40" y2="281.20" stroke="#efefef" stroke-width="0.5"/>
<line x1="28.70" y1="215.74" x2="176.40" y2="215.74" stroke="#efefef" stroke-width="0.5"/>
<line x1="28.70" y1="227.86" x2="176.40" y2="227.86" stroke="#efefef" stroke-width="0.5"/>
<line x1="28.70" y1="239.98" x2="176.40" y2="239.98" stroke="#efefef" stroke-width="0.5"/>
<line x1="28.70" y1="252.11" x2="176.40" y2="252.11" stroke="#efefef" stroke-width="0.5"/>
<line x1="28.70" y1="264.23" x2="176.40" y2="264.23" stroke="#efefef" stroke-width="0.5"/>
<line x1="28.70" y1="276.35" x2="176.40" y2="276.35" stroke="#efefef" stroke-width="0.5"/>
<line x1="28.70" y1="215.74" x2="28.70" y2="281.20" stroke="#8c8c8c" stroke-width="0.5"/>
<line x1="28.70" y1="281.20" x2="176.40" y2="281.20" stroke="#8c8c8c" stroke-width="0.5"/>
<line x1="28.70" y1="281.20" x2="28.70" y2="280.00" stroke="#8c8c8c" stroke-width="0.4"/>
<text transform="translate(28.70 286.20) scale(0.4000 0.4600)" font-size="10" font-weight="normal" text-anchor="middle" fill="#1a1a1a" stroke="#1a1a1a" stroke-width="0.350">0</text>
<line x1="53.32" y1="281.20" x2="53.32" y2="280.00" stroke="#8c8c8c" stroke-width="0.4"/>
<text transform="translate(53.32 286.20) scale(0.4000 0.4600)" font-size="10" font-weight="normal" text-anchor="middle" fill="#1a1a1a" stroke="#1a1a1a" stroke-width="0.350">0.5</text>
<line x1="77.93" y1="281.20" x2="77.93" y2="280.00" stroke="#8c8c8c" stroke-width="0.4"/>
<text transform="translate(77.93 286.20) scale(0.4000 0.4600)" font-size="10" font-weight="normal" text-anchor="middle" fill="#1a1a1a" stroke="#1a1a1a" stroke-width="0.350">1</text>
<line x1="102.55" y1="281.20" x2="102.55" y2="280.00" stroke="#8c8c8c" stroke-width="0.4"/>
<text transform="translate(102.55 286.20) scale(0.4000 0.4600)" font-size="10" font-weight="normal" text-anchor="middle" fill="#1a1a1a" stroke="#1a1a1a" stroke-width="0.350">1.5</text>
<line x1="127.17" y1="281.20" x2="127.17" y2="280.00" stroke="#8c8c8c" stroke-width="0.4"/>
<text transform="translate(127.17 286.20) scale(0.4000 0.4600)" font-size="10" font-weight="normal" text-anchor="middle" fill="#1a1a1a" stroke="#1a1a1a" stroke-width="0.350">2</text>
<line x1="151.78" y1="281.20" x2="151.78" y2="280.00" stroke="#8c8c8c" stroke-width="0.4"/>
<text transform="translate(151.78 286.20) scale(0.4000 0.4600)" font-size="10" font-weight="normal" text-anchor="middle" fill="#1a1a1a" stroke="#1a1a1a" stroke-width="0.350">2.5</text>
<line x1="176.40" y1="281.20" x2="176.40" y2="280.00" stroke="#8c8c8c" stroke-width="0.4"/>
<text transform="translate(176.40 286.20) scale(0.4000 0.4600)" font-size="10" font-weight="normal" text-anchor="middle" fill="#1a1a1a" stroke="#1a1a1a" stroke-width="0.350">3</text>
<line x1="28.70" y1="215.74" x2="29.90" y2="215.74" stroke="#8c8c8c" stroke-width="0.4"/>
<text transform="translate(27.50 217.34) scale(0.4000 0.4600)" font-size="10" font-weight="normal" text-anchor="end" fill="#1a1a1a" stroke="#1a1a1a" stroke-width="0.350">1.5</text>
<line x1="28.70" y1="227.86" x2="29.90" y2="227.86" stroke="#8c8c8c" stroke-width="0.4"/>
<text transform="translate(27.50 229.46) scale(0.4000 0.4600)" font-size="10" font-weight="normal" text-anchor="end" fill="#1a1a1a" stroke="#1a1a1a" stroke-width="0.350">1</text>
<line x1="28.70" y1="239.98" x2="29.90" y2="239.98" stroke="#8c8c8c" stroke-width="0.4"/>
<text transform="translate(27.50 241.58) scale(0.4000 0.4600)" font-size="10" font-weight="normal" text-anchor="end" fill="#1a1a1a" stroke="#1a1a1a" stroke-width="0.350">0.5</text>
<line x1="28.70" y1="252.11" x2="29.90" y2="252.11" stroke="#8c8c8c" stroke-width="0.4"/>
<text transform="translate(27.50 253.71) scale(0.4000 0.4600)" font-size="10" font-weight="normal" text-anchor="end" fill="#1a1a1a" stroke="#1a1a1a" stroke-width="0.350">0</text>
<line x1="28.70" y1="264.23" x2="29.90" y2="264.23" stroke="#8c8c8c" stroke-width="0.4"/>
<text transform="translate(27.50 265.83) scale(0.4000 0.4600)" font-size="10" font-weight="normal" text-anchor="end" fill="#1a1a1a" stroke="#1a1a1a" stroke-width="0.350">-0.5</text>
<line x1="28.70" y1="276.35" x2="29.90" y2="276.35" stroke="#8c8c8c" stroke-width="0.4"/>
<text transform="translate(27.50 277.95) scale(0.4000 0.4600)" font-size="10" font-weight="normal" text-anchor="end" fill="#1a1a1a" stroke="#1a1a1a" stroke-width="0.350">-1</text>
<clipPath id="c6"><rect x="28.7" y="213.74" width="147.70000000000002" height="67.45999999999998"/></clipPath>
<path d="M28.7 252.1L60.2 252.1L63.2 251.9L65.6 251.4L68.6 250.5L71.0 249.4L77.9 245.6L89.3 240.0L96.6 236.1L101.1 234.5L103.0 234.1L104.5 234.0L107.5 234.4L109.0 234.8L109.9 235.3L111.9 236.5L121.3 243.4L124.2 245.4L127.7 247.2L132.6 249.1L135.5 249.9L138.5 250.5L142.4 251.2L146.9 251.7L151.3 252.1L160.6 252.1" fill="none" stroke="#3399dd" stroke-width="1.05" stroke-linejoin="round" clip-path="url(#c6)"/>
<path d="M28.7 252.1L56.3 252.1L58.7 252.2L60.7 252.8L65.1 255.4L68.6 256.8L70.1 257.2L71.5 257.3L74.0 257.0L76.0 256.3L77.9 255.4L79.4 254.5L80.9 253.4L85.8 248.7L92.7 241.3L95.7 238.6L98.6 236.2L104.0 232.4L106.5 230.8L109.0 229.8L110.9 229.5L112.4 229.7L113.9 230.3L115.8 231.4L118.3 232.9L121.3 235.2L126.2 239.6L132.6 245.1L135.0 246.8L138.0 248.4L140.5 249.4L143.4 250.4L149.3 251.8L152.3 252.1L160.6 252.1" fill="none" stroke="#f65e26" stroke-width="1.3" stroke-linejoin="round" clip-path="url(#c6)"/>
<path d="M28.7 251.8L56.3 251.8L59.2 252.0L60.7 252.6L62.2 253.7L67.1 259.0L69.6 261.3L71.5 262.8L73.0 263.5L74.0 263.7L75.5 263.6L76.9 263.2L79.4 262.3L81.9 260.9L84.3 259.1L86.3 257.3L88.8 254.5L91.7 250.8L101.1 236.9L102.6 235.0L104.5 232.6L108.0 229.2L111.4 226.5L113.9 224.9L114.9 224.6L115.8 224.4L116.8 224.5L117.8 224.8L119.8 225.6L123.2 227.8L125.7 229.7L129.1 233.1L134.6 239.6L137.5 242.8L141.4 246.5L144.9 249.0L147.8 250.5L149.3 251.0L151.3 251.5L154.2 251.8L160.6 251.8" fill="none" stroke="#96cc66" stroke-width="0.75" stroke-linejoin="round" clip-path="url(#c6)"/>
<path d="M28.7 252.4L56.3 252.4L59.2 252.6L60.7 253.2L62.2 254.3L67.1 259.6L69.6 261.8L71.5 263.3L73.0 264.1L74.0 264.3L75.5 264.2L76.9 263.8L79.4 262.9L81.9 261.5L84.3 259.7L86.3 257.8L88.8 255.1L91.7 251.4L101.1 237.5L102.6 235.5L104.5 233.2L108.0 229.8L111.4 227.1L113.9 225.5L114.9 225.2L115.8 225.0L116.8 225.1L117.8 225.3L119.8 226.2L123.2 228.4L125.7 230.3L129.1 233.7L134.6 240.2L137.5 243.4L141.4 247.1L144.9 249.6L147.8 251.1L149.3 251.6L151.3 252.0L154.2 252.4L160.6 252.4" fill="none" stroke="#f6be4a" stroke-width="1.15" stroke-linejoin="round" stroke-dasharray="3 0.6" clip-path="url(#c6)"/>
<path d="M28.7 252.1L56.3 252.1L59.2 252.3L60.7 252.9L62.2 254.0L67.1 259.3L69.6 261.6L71.5 263.0L73.0 263.8L74.0 264.0L75.5 263.9L76.9 263.5L79.4 262.6L81.9 261.2L84.3 259.4L86.3 257.5L88.8 254.8L91.7 251.1L101.1 237.2L102.6 235.2L104.5 232.9L108.0 229.5L111.4 226.8L113.9 225.2L114.9 224.9L115.8 224.7L116.8 224.8L117.8 225.0L119.8 225.9L123.2 228.1L125.7 230.0L129.1 233.4L134.6 239.9L137.5 243.1L141.4 246.8L144.9 249.3L147.8 250.8L149.3 251.3L151.3 251.8L154.2 252.1L160.6 252.1" fill="none" stroke="#a64cc0" stroke-width="1.15" stroke-linejoin="round" stroke-dasharray="1.3 1.6" clip-path="url(#c6)"/>
<rect x="151.90" y="218.20" width="22.70" height="21.90" fill="#fff" stroke="#b8b8b8" stroke-width="0.5"/>
<line x1="153.49" y1="220.98" x2="162.34" y2="220.98" stroke="#3399dd" stroke-width="0.89" stroke-opacity="0.85"/>
<text transform="translate(162.84 222.18) scale(0.3500 0.4025)" font-size="10" font-weight="normal" text-anchor="start" fill="#3a3a3a" stroke="#3a3a3a" stroke-width="0.143">Base</text>
<line x1="153.49" y1="225.08" x2="162.34" y2="225.08" stroke="#f65e26" stroke-width="1.10" stroke-opacity="0.85"/>
<text transform="translate(162.84 226.28) scale(0.3500 0.4025)" font-size="10" font-weight="normal" text-anchor="start" fill="#3a3a3a" stroke="#3a3a3a" stroke-width="0.143">Node 0</text>
<line x1="153.49" y1="229.17" x2="162.34" y2="229.17" stroke="#f6be4a" stroke-width="0.98" stroke-opacity="0.85" stroke-dasharray="1.6 0.8 0.5 0.8"/>
<text transform="translate(162.84 230.37) scale(0.3500 0.4025)" font-size="10" font-weight="normal" text-anchor="start" fill="#3a3a3a" stroke="#3a3a3a" stroke-width="0.143">Node 1</text>
<line x1="153.49" y1="233.26" x2="162.34" y2="233.26" stroke="#a64cc0" stroke-width="0.98" stroke-opacity="0.85" stroke-dasharray="1.2 2.2"/>
<text transform="translate(162.84 234.46) scale(0.3500 0.4025)" font-size="10" font-weight="normal" text-anchor="start" fill="#3a3a3a" stroke="#3a3a3a" stroke-width="0.143">Node 2</text>
<line x1="153.49" y1="237.36" x2="162.34" y2="237.36" stroke="#96cc66" stroke-width="0.64" stroke-opacity="0.85"/>
<text transform="translate(162.84 238.56) scale(0.3500 0.4025)" font-size="10" font-weight="normal" text-anchor="start" fill="#3a3a3a" stroke="#3a3a3a" stroke-width="0.143">Node 3</text>
<text transform="translate(102.60 213.10) scale(0.5900 0.6785)" font-size="10" font-weight="bold" text-anchor="middle" fill="#111" stroke="#111" stroke-width="0.203">Trajectory of <tspan font-style="italic">&#981;</tspan> according to base displacement (K = 150, C = 5)</text>
<text transform="translate(19.60 248.47) rotate(-90) scale(0.5400 0.5400)" font-size="10" font-weight="bold" text-anchor="middle" fill="#111" stroke="#111" stroke-width="0.185">Angle (rad)</text>
<text transform="translate(102.55 292.50) scale(0.5400 0.6210)" font-size="10" font-weight="bold" text-anchor="middle" fill="#111" stroke="#111" stroke-width="0.185">time(s), F<tspan font-size="6.6" dy="3">s</tspan><tspan dy="-3"> = 100Hz</tspan></text>
<line x1="53.32" y1="307.04" x2="53.32" y2="372.50" stroke="#efefef" stroke-width="0.5"/>
<line x1="77.93" y1="307.04" x2="77.93" y2="372.50" stroke="#efefef" stroke-width="0.5"/>
<line x1="102.55" y1="307.04" x2="102.55" y2="372.50" stroke="#efefef" stroke-width="0.5"/>
<line x1="127.17" y1="307.04" x2="127.17" y2="372.50" stroke="#efefef" stroke-width="0.5"/>
<line x1="151.78" y1="307.04" x2="151.78" y2="372.50" stroke="#efefef" stroke-width="0.5"/>
<line x1="176.40" y1="307.04" x2="176.40" y2="372.50" stroke="#efefef" stroke-width="0.5"/>
<line x1="28.70" y1="307.04" x2="176.40" y2="307.04" stroke="#efefef" stroke-width="0.5"/>
<line x1="28.70" y1="319.16" x2="176.40" y2="319.16" stroke="#efefef" stroke-width="0.5"/>
<line x1="28.70" y1="331.28" x2="176.40" y2="331.28" stroke="#efefef" stroke-width="0.5"/>
<line x1="28.70" y1="343.41" x2="176.40" y2="343.41" stroke="#efefef" stroke-width="0.5"/>
<line x1="28.70" y1="355.53" x2="176.40" y2="355.53" stroke="#efefef" stroke-width="0.5"/>
<line x1="28.70" y1="367.65" x2="176.40" y2="367.65" stroke="#efefef" stroke-width="0.5"/>
<line x1="28.70" y1="307.04" x2="28.70" y2="372.50" stroke="#8c8c8c" stroke-width="0.5"/>
<line x1="28.70" y1="372.50" x2="176.40" y2="372.50" stroke="#8c8c8c" stroke-width="0.5"/>
<line x1="28.70" y1="372.50" x2="28.70" y2="371.30" stroke="#8c8c8c" stroke-width="0.4"/>
<text transform="translate(28.70 377.50) scale(0.4000 0.4600)" font-size="10" font-weight="normal" text-anchor="middle" fill="#1a1a1a" stroke="#1a1a1a" stroke-width="0.350">0</text>
<line x1="53.32" y1="372.50" x2="53.32" y2="371.30" stroke="#8c8c8c" stroke-width="0.4"/>
<text transform="translate(53.32 377.50) scale(0.4000 0.4600)" font-size="10" font-weight="normal" text-anchor="middle" fill="#1a1a1a" stroke="#1a1a1a" stroke-width="0.350">0.5</text>
<line x1="77.93" y1="372.50" x2="77.93" y2="371.30" stroke="#8c8c8c" stroke-width="0.4"/>
<text transform="translate(77.93 377.50) scale(0.4000 0.4600)" font-size="10" font-weight="normal" text-anchor="middle" fill="#1a1a1a" stroke="#1a1a1a" stroke-width="0.350">1</text>
<line x1="102.55" y1="372.50" x2="102.55" y2="371.30" stroke="#8c8c8c" stroke-width="0.4"/>
<text transform="translate(102.55 377.50) scale(0.4000 0.4600)" font-size="10" font-weight="normal" text-anchor="middle" fill="#1a1a1a" stroke="#1a1a1a" stroke-width="0.350">1.5</text>
<line x1="127.17" y1="372.50" x2="127.17" y2="371.30" stroke="#8c8c8c" stroke-width="0.4"/>
<text transform="translate(127.17 377.50) scale(0.4000 0.4600)" font-size="10" font-weight="normal" text-anchor="middle" fill="#1a1a1a" stroke="#1a1a1a" stroke-width="0.350">2</text>
<line x1="151.78" y1="372.50" x2="151.78" y2="371.30" stroke="#8c8c8c" stroke-width="0.4"/>
<text transform="translate(151.78 377.50) scale(0.4000 0.4600)" font-size="10" font-weight="normal" text-anchor="middle" fill="#1a1a1a" stroke="#1a1a1a" stroke-width="0.350">2.5</text>
<line x1="176.40" y1="372.50" x2="176.40" y2="371.30" stroke="#8c8c8c" stroke-width="0.4"/>
<text transform="translate(176.40 377.50) scale(0.4000 0.4600)" font-size="10" font-weight="normal" text-anchor="middle" fill="#1a1a1a" stroke="#1a1a1a" stroke-width="0.350">3</text>
<line x1="28.70" y1="307.04" x2="29.90" y2="307.04" stroke="#8c8c8c" stroke-width="0.4"/>
<text transform="translate(27.50 308.64) scale(0.4000 0.4600)" font-size="10" font-weight="normal" text-anchor="end" fill="#1a1a1a" stroke="#1a1a1a" stroke-width="0.350">1.5</text>
<line x1="28.70" y1="319.16" x2="29.90" y2="319.16" stroke="#8c8c8c" stroke-width="0.4"/>
<text transform="translate(27.50 320.76) scale(0.4000 0.4600)" font-size="10" font-weight="normal" text-anchor="end" fill="#1a1a1a" stroke="#1a1a1a" stroke-width="0.350">1</text>
<line x1="28.70" y1="331.28" x2="29.90" y2="331.28" stroke="#8c8c8c" stroke-width="0.4"/>
<text transform="translate(27.50 332.88) scale(0.4000 0.4600)" font-size="10" font-weight="normal" text-anchor="end" fill="#1a1a1a" stroke="#1a1a1a" stroke-width="0.350">0.5</text>
<line x1="28.70" y1="343.41" x2="29.90" y2="343.41" stroke="#8c8c8c" stroke-width="0.4"/>
<text transform="translate(27.50 345.01) scale(0.4000 0.4600)" font-size="10" font-weight="normal" text-anchor="end" fill="#1a1a1a" stroke="#1a1a1a" stroke-width="0.350">0</text>
<line x1="28.70" y1="355.53" x2="29.90" y2="355.53" stroke="#8c8c8c" stroke-width="0.4"/>
<text transform="translate(27.50 357.13) scale(0.4000 0.4600)" font-size="10" font-weight="normal" text-anchor="end" fill="#1a1a1a" stroke="#1a1a1a" stroke-width="0.350">-0.5</text>
<line x1="28.70" y1="367.65" x2="29.90" y2="367.65" stroke="#8c8c8c" stroke-width="0.4"/>
<text transform="translate(27.50 369.25) scale(0.4000 0.4600)" font-size="10" font-weight="normal" text-anchor="end" fill="#1a1a1a" stroke="#1a1a1a" stroke-width="0.350">-1</text>
<clipPath id="c7"><rect x="28.7" y="305.03999999999996" width="147.70000000000002" height="67.46000000000004"/></clipPath>
<path d="M28.7 343.4L49.9 343.4L52.3 343.3L54.8 342.9L57.7 342.1L60.7 340.9L62.7 339.8L67.6 336.7L69.6 335.7L72.0 334.7L74.0 334.0L76.0 333.5L77.4 333.3L79.4 333.4L81.4 333.7L83.8 334.5L85.8 335.2L87.3 336.0L89.7 337.8L95.2 342.7L100.1 346.5L103.5 349.0L106.5 350.7L109.9 352.0L113.9 353.0L117.8 353.5L123.2 353.8L126.2 353.5L128.2 353.0L130.1 352.3L136.5 349.4L143.9 345.5L146.4 344.5L148.3 343.9L149.8 343.6L151.8 343.4L160.6 343.4" fill="none" stroke="#3399dd" stroke-width="1.05" stroke-linejoin="round" clip-path="url(#c7)"/>
<path d="M28.7 343.4L51.8 343.4L53.8 343.5L58.2 344.0L59.7 344.0L61.2 343.8L63.7 343.1L66.6 341.5L68.6 340.1L74.5 335.5L76.0 334.5L77.4 333.8L79.4 333.3L82.4 332.9L84.8 332.8L87.3 332.9L89.7 333.4L91.7 334.1L104.5 340.5L109.0 343.2L118.3 349.8L127.7 355.5L130.1 356.8L131.6 357.2L132.6 357.3L134.1 357.2L136.0 356.7L138.0 355.9L139.5 355.0L141.4 353.4L145.4 349.5L148.3 346.8L150.3 345.3L151.8 344.4L153.3 343.8L154.7 343.5L160.6 343.4" fill="none" stroke="#f65e26" stroke-width="1.3" stroke-linejoin="round" clip-path="url(#c7)"/>
<path d="M28.7 343.1L53.3 343.2L55.3 343.5L56.8 344.0L60.7 346.1L62.2 346.7L64.1 347.0L65.6 346.9L66.6 346.6L68.1 346.0L70.1 344.5L72.0 342.2L75.5 337.3L76.9 335.4L78.9 333.4L80.9 331.9L82.9 330.8L85.3 330.0L88.3 329.6L90.7 329.8L93.2 330.5L98.1 332.6L101.1 334.1L104.0 336.0L106.5 338.0L114.4 344.9L117.3 347.4L119.8 349.1L124.7 352.1L126.7 353.6L128.2 355.0L131.1 358.6L132.6 360.1L134.1 361.0L135.0 361.4L136.0 361.5L137.0 361.3L138.5 360.7L140.0 359.7L141.9 358.0L144.4 355.5L150.8 347.7L152.3 346.1L153.8 344.8L155.2 343.9L156.7 343.3L158.2 343.2L160.6 343.1" fill="none" stroke="#96cc66" stroke-width="0.75" stroke-linejoin="round" clip-path="url(#c7)"/>
<path d="M28.7 343.7L53.3 343.8L55.3 344.1L56.8 344.6L60.7 346.7L62.2 347.3L64.1 347.6L65.6 347.5L66.6 347.2L68.1 346.5L70.1 345.1L72.0 342.8L75.5 337.8L76.9 336.0L78.9 334.0L80.9 332.4L82.9 331.3L85.3 330.6L88.3 330.2L90.7 330.4L93.2 331.1L98.1 333.2L101.1 334.7L104.0 336.6L106.5 338.5L114.4 345.5L117.3 348.0L119.8 349.7L124.7 352.7L126.7 354.1L128.2 355.6L131.1 359.1L132.6 360.6L134.1 361.6L135.0 362.0L136.0 362.1L137.0 361.9L138.5 361.3L140.0 360.3L141.9 358.6L144.4 356.0L150.8 348.2L152.3 346.7L153.8 345.4L155.2 344.5L156.7 343.9L158.2 343.7L160.6 343.7" fill="none" stroke="#f6be4a" stroke-width="1.15" stroke-linejoin="round" stroke-dasharray="3 0.6" clip-path="url(#c7)"/>
<path d="M28.7 343.4L53.3 343.5L55.3 343.8L56.8 344.3L60.7 346.4L62.2 347.0L64.1 347.3L65.6 347.2L66.6 346.9L68.1 346.3L70.1 344.8L72.0 342.5L75.5 337.6L76.9 335.7L78.9 333.7L80.9 332.1L82.9 331.0L85.3 330.3L88.3 329.9L90.7 330.1L93.2 330.8L98.1 332.9L101.1 334.4L104.0 336.3L106.5 338.2L114.4 345.2L117.3 347.7L119.8 349.4L124.7 352.4L126.7 353.8L128.2 355.3L131.1 358.8L132.6 360.4L134.1 361.3L135.0 361.7L136.0 361.8L137.0 361.6L138.5 361.0L140.0 360.0L141.9 358.3L144.4 355.7L150.8 347.9L152.3 346.4L153.8 345.1L155.2 344.2L156.7 343.6L158.2 343.4L160.6 343.4" fill="none" stroke="#a64cc0" stroke-width="1.15" stroke-linejoin="round" stroke-dasharray="1.3 1.6" clip-path="url(#c7)"/>
<rect x="152.40" y="309.70" width="21.90" height="22.30" fill="#fff" stroke="#b8b8b8" stroke-width="0.5"/>
<line x1="153.93" y1="312.53" x2="162.47" y2="312.53" stroke="#3399dd" stroke-width="0.89" stroke-opacity="0.85"/>
<text transform="translate(162.97 313.73) scale(0.3500 0.4025)" font-size="10" font-weight="normal" text-anchor="start" fill="#3a3a3a" stroke="#3a3a3a" stroke-width="0.143">Base</text>
<line x1="153.93" y1="316.70" x2="162.47" y2="316.70" stroke="#f65e26" stroke-width="1.10" stroke-opacity="0.85"/>
<text transform="translate(162.97 317.90) scale(0.3500 0.4025)" font-size="10" font-weight="normal" text-anchor="start" fill="#3a3a3a" stroke="#3a3a3a" stroke-width="0.143">Node 1</text>
<line x1="153.93" y1="320.87" x2="162.47" y2="320.87" stroke="#f6be4a" stroke-width="0.98" stroke-opacity="0.85" stroke-dasharray="1.6 0.8 0.5 0.8"/>
<text transform="translate(162.97 322.07) scale(0.3500 0.4025)" font-size="10" font-weight="normal" text-anchor="start" fill="#3a3a3a" stroke="#3a3a3a" stroke-width="0.143">Node 2</text>
<line x1="153.93" y1="325.04" x2="162.47" y2="325.04" stroke="#a64cc0" stroke-width="0.98" stroke-opacity="0.85" stroke-dasharray="1.2 2.2"/>
<text transform="translate(162.97 326.24) scale(0.3500 0.4025)" font-size="10" font-weight="normal" text-anchor="start" fill="#3a3a3a" stroke="#3a3a3a" stroke-width="0.143">Node 3</text>
<line x1="153.93" y1="329.21" x2="162.47" y2="329.21" stroke="#96cc66" stroke-width="0.64" stroke-opacity="0.85"/>
<text transform="translate(162.97 330.41) scale(0.3500 0.4025)" font-size="10" font-weight="normal" text-anchor="start" fill="#3a3a3a" stroke="#3a3a3a" stroke-width="0.143">Node 4</text>
<text transform="translate(102.60 304.90) scale(0.5900 0.6785)" font-size="10" font-weight="bold" text-anchor="middle" fill="#111" stroke="#111" stroke-width="0.203">Trajectory of <tspan font-style="italic">&#952;</tspan> according to base displacement (K = 150, C = 5)</text>
<text transform="translate(19.60 339.77) rotate(-90) scale(0.5400 0.5400)" font-size="10" font-weight="bold" text-anchor="middle" fill="#111" stroke="#111" stroke-width="0.185">Angle (rad)</text>
<text transform="translate(102.55 383.50) scale(0.5400 0.6210)" font-size="10" font-weight="bold" text-anchor="middle" fill="#111" stroke="#111" stroke-width="0.185">time(s), F<tspan font-size="6.6" dy="3">s</tspan><tspan dy="-3"> = 100Hz</tspan></text>
<line x1="229.77" y1="217.30" x2="229.77" y2="252.70" stroke="#efefef" stroke-width="0.5"/>
<line x1="254.43" y1="217.30" x2="254.43" y2="252.70" stroke="#efefef" stroke-width="0.5"/>
<line x1="279.10" y1="217.30" x2="279.10" y2="252.70" stroke="#efefef" stroke-width="0.5"/>
<line x1="303.77" y1="217.30" x2="303.77" y2="252.70" stroke="#efefef" stroke-width="0.5"/>
<line x1="328.43" y1="217.30" x2="328.43" y2="252.70" stroke="#efefef" stroke-width="0.5"/>
<line x1="353.10" y1="217.30" x2="353.10" y2="252.70" stroke="#efefef" stroke-width="0.5"/>
<line x1="205.10" y1="217.30" x2="353.10" y2="217.30" stroke="#efefef" stroke-width="0.5"/>
<line x1="205.10" y1="229.10" x2="353.10" y2="229.10" stroke="#efefef" stroke-width="0.5"/>
<line x1="205.10" y1="240.90" x2="353.10" y2="240.90" stroke="#efefef" stroke-width="0.5"/>
<line x1="205.10" y1="217.30" x2="205.10" y2="252.70" stroke="#8c8c8c" stroke-width="0.5"/>
<line x1="205.10" y1="252.70" x2="353.10" y2="252.70" stroke="#8c8c8c" stroke-width="0.5"/>
<line x1="205.10" y1="252.70" x2="205.10" y2="251.50" stroke="#8c8c8c" stroke-width="0.4"/>
<text transform="translate(205.10 257.70) scale(0.4000 0.4600)" font-size="10" font-weight="normal" text-anchor="middle" fill="#1a1a1a" stroke="#1a1a1a" stroke-width="0.350">0</text>
<line x1="229.77" y1="252.70" x2="229.77" y2="251.50" stroke="#8c8c8c" stroke-width="0.4"/>
<text transform="translate(229.77 257.70) scale(0.4000 0.4600)" font-size="10" font-weight="normal" text-anchor="middle" fill="#1a1a1a" stroke="#1a1a1a" stroke-width="0.350">0.5</text>
<line x1="254.43" y1="252.70" x2="254.43" y2="251.50" stroke="#8c8c8c" stroke-width="0.4"/>
<text transform="translate(254.43 257.70) scale(0.4000 0.4600)" font-size="10" font-weight="normal" text-anchor="middle" fill="#1a1a1a" stroke="#1a1a1a" stroke-width="0.350">1</text>
<line x1="279.10" y1="252.70" x2="279.10" y2="251.50" stroke="#8c8c8c" stroke-width="0.4"/>
<text transform="translate(279.10 257.70) scale(0.4000 0.4600)" font-size="10" font-weight="normal" text-anchor="middle" fill="#1a1a1a" stroke="#1a1a1a" stroke-width="0.350">1.5</text>
<line x1="303.77" y1="252.70" x2="303.77" y2="251.50" stroke="#8c8c8c" stroke-width="0.4"/>
<text transform="translate(303.77 257.70) scale(0.4000 0.4600)" font-size="10" font-weight="normal" text-anchor="middle" fill="#1a1a1a" stroke="#1a1a1a" stroke-width="0.350">2</text>
<line x1="328.43" y1="252.70" x2="328.43" y2="251.50" stroke="#8c8c8c" stroke-width="0.4"/>
<text transform="translate(328.43 257.70) scale(0.4000 0.4600)" font-size="10" font-weight="normal" text-anchor="middle" fill="#1a1a1a" stroke="#1a1a1a" stroke-width="0.350">2.5</text>
<line x1="353.10" y1="252.70" x2="353.10" y2="251.50" stroke="#8c8c8c" stroke-width="0.4"/>
<text transform="translate(353.10 257.70) scale(0.4000 0.4600)" font-size="10" font-weight="normal" text-anchor="middle" fill="#1a1a1a" stroke="#1a1a1a" stroke-width="0.350">3</text>
<line x1="205.10" y1="217.30" x2="206.30" y2="217.30" stroke="#8c8c8c" stroke-width="0.4"/>
<text transform="translate(203.90 218.90) scale(0.4000 0.4600)" font-size="10" font-weight="normal" text-anchor="end" fill="#1a1a1a" stroke="#1a1a1a" stroke-width="0.350">0.4</text>
<line x1="205.10" y1="229.10" x2="206.30" y2="229.10" stroke="#8c8c8c" stroke-width="0.4"/>
<text transform="translate(203.90 230.70) scale(0.4000 0.4600)" font-size="10" font-weight="normal" text-anchor="end" fill="#1a1a1a" stroke="#1a1a1a" stroke-width="0.350">0.2</text>
<line x1="205.10" y1="240.90" x2="206.30" y2="240.90" stroke="#8c8c8c" stroke-width="0.4"/>
<text transform="translate(203.90 242.50) scale(0.4000 0.4600)" font-size="10" font-weight="normal" text-anchor="end" fill="#1a1a1a" stroke="#1a1a1a" stroke-width="0.350">0</text>
<line x1="205.10" y1="252.70" x2="206.30" y2="252.70" stroke="#8c8c8c" stroke-width="0.4"/>
<text transform="translate(203.90 254.30) scale(0.4000 0.4600)" font-size="10" font-weight="normal" text-anchor="end" fill="#1a1a1a" stroke="#1a1a1a" stroke-width="0.350">-0.2</text>
<clipPath id="c8"><rect x="205.1" y="215.3" width="148.00000000000003" height="37.39999999999998"/></clipPath>
<path d="M205.1 232.2L230.3 232.2L233.7 232.4L235.7 232.8L237.7 233.5L239.1 234.3L243.6 236.9L246.0 238.0L248.0 238.7L250.5 239.3L253.0 239.7L254.9 239.8L256.9 239.7L258.9 239.4L260.8 238.8L263.8 237.6L270.2 233.6L279.6 228.2L287.0 223.6L289.5 222.3L292.4 221.1L295.9 219.9L298.3 219.3L300.3 219.2L302.3 219.3L304.3 219.6L306.2 220.0L307.7 220.5L310.2 221.8L319.1 226.9L321.5 228.1L324.5 229.1L326.5 229.6L328.9 230.0L332.9 230.3L337.3 230.4" fill="none" stroke="#3399dd" stroke-width="1.05" stroke-linejoin="round" clip-path="url(#c8)"/>
<path d="M205.1 233.0L231.2 233.1L234.7 233.3L237.2 233.8L239.1 234.5L245.1 238.0L247.5 239.1L249.5 239.9L252.0 240.5L254.4 240.9L256.9 241.0L258.4 240.9L260.4 240.5L262.3 239.9L265.3 238.6L271.7 234.5L281.6 228.7L287.5 224.7L290.9 222.7L293.9 221.3L297.4 220.0L298.8 219.6L301.3 219.3L303.3 219.4L305.2 219.8L307.2 220.3L309.2 221.0L311.7 222.3L320.5 227.5L323.0 228.6L325.5 229.5L327.9 230.1L329.9 230.4L337.3 230.9" fill="none" stroke="#f65e26" stroke-width="1.3" stroke-linejoin="round" clip-path="url(#c8)"/>
<path d="M205.1 235.5L235.2 235.8L238.6 236.0L240.6 236.5L242.6 237.4L244.1 238.2L248.5 241.2L251.0 242.5L253.0 243.3L256.9 244.5L259.4 244.6L261.3 244.5L263.3 244.1L265.8 243.3L267.8 242.4L269.2 241.6L275.2 237.5L281.6 233.5L291.9 225.4L294.4 223.6L296.4 222.4L298.8 221.0L301.8 220.4L303.8 220.2L305.2 220.2L307.2 220.5L310.7 221.3L312.6 222.0L315.1 223.2L324.0 228.6L326.0 229.6L328.4 230.6L330.4 231.2L332.4 231.7L337.3 232.2" fill="none" stroke="#96cc66" stroke-width="0.75" stroke-linejoin="round" clip-path="url(#c8)"/>
<path d="M205.1 233.8L232.7 234.0L236.2 234.2L238.2 234.6L240.1 235.4L241.6 236.2L246.0 238.9L248.5 240.1L250.5 240.9L253.0 241.6L255.9 242.2L257.4 242.3L259.4 242.1L261.3 241.7L263.3 241.1L265.3 240.3L266.8 239.5L272.7 235.6L281.6 230.3L289.5 224.7L292.9 222.7L295.9 221.2L298.8 220.0L300.8 219.7L302.3 219.6L304.3 219.7L306.2 220.0L308.2 220.5L310.2 221.2L312.6 222.5L321.5 227.8L324.0 228.9L326.5 229.8L328.9 230.5L330.9 230.9L337.3 231.3" fill="none" stroke="#f6be4a" stroke-width="1.15" stroke-linejoin="round" stroke-dasharray="3 0.6" clip-path="url(#c8)"/>
<path d="M205.1 234.6L233.7 234.9L237.2 235.1L239.6 235.6L241.1 236.2L242.6 237.0L247.5 240.2L250.0 241.4L252.0 242.2L254.4 242.9L256.9 243.4L258.9 243.5L260.4 243.3L262.3 242.9L264.8 242.1L266.8 241.3L268.2 240.4L274.2 236.4L281.6 231.9L290.9 224.9L294.9 222.5L298.8 220.5L301.3 220.0L303.3 219.8L305.2 220.0L307.2 220.3L309.7 221.0L311.7 221.7L314.1 223.0L322.5 228.0L325.0 229.2L327.4 230.2L329.4 230.8L331.4 231.2L337.3 231.8" fill="none" stroke="#a64cc0" stroke-width="1.15" stroke-linejoin="round" stroke-dasharray="1.3 1.6" clip-path="url(#c8)"/>
<rect x="328.50" y="220.30" width="22.90" height="21.60" fill="#fff" stroke="#b8b8b8" stroke-width="0.5"/>
<line x1="330.10" y1="223.05" x2="339.03" y2="223.05" stroke="#3399dd" stroke-width="0.89" stroke-opacity="0.85"/>
<text transform="translate(339.53 224.25) scale(0.3500 0.4025)" font-size="10" font-weight="normal" text-anchor="start" fill="#3a3a3a" stroke="#3a3a3a" stroke-width="0.143">Base</text>
<line x1="330.10" y1="227.08" x2="339.03" y2="227.08" stroke="#f65e26" stroke-width="1.10" stroke-opacity="0.85"/>
<text transform="translate(339.53 228.28) scale(0.3500 0.4025)" font-size="10" font-weight="normal" text-anchor="start" fill="#3a3a3a" stroke="#3a3a3a" stroke-width="0.143">Node 1</text>
<line x1="330.10" y1="231.12" x2="339.03" y2="231.12" stroke="#f6be4a" stroke-width="0.98" stroke-opacity="0.85" stroke-dasharray="1.6 0.8 0.5 0.8"/>
<text transform="translate(339.53 232.32) scale(0.3500 0.4025)" font-size="10" font-weight="normal" text-anchor="start" fill="#3a3a3a" stroke="#3a3a3a" stroke-width="0.143">Node 2</text>
<line x1="330.10" y1="235.16" x2="339.03" y2="235.16" stroke="#a64cc0" stroke-width="0.98" stroke-opacity="0.85" stroke-dasharray="1.2 2.2"/>
<text transform="translate(339.53 236.36) scale(0.3500 0.4025)" font-size="10" font-weight="normal" text-anchor="start" fill="#3a3a3a" stroke="#3a3a3a" stroke-width="0.143">Node 3</text>
<line x1="330.10" y1="239.19" x2="339.03" y2="239.19" stroke="#96cc66" stroke-width="0.64" stroke-opacity="0.85"/>
<text transform="translate(339.53 240.39) scale(0.3500 0.4025)" font-size="10" font-weight="normal" text-anchor="start" fill="#3a3a3a" stroke="#3a3a3a" stroke-width="0.143">Node 4</text>
<text transform="translate(279.60 214.90) scale(0.5870 0.6750)" font-size="10" font-weight="bold" text-anchor="middle" fill="#111" stroke="#111" stroke-width="0.204">Trajectory of Nodes in X Coordinate (K = 150, C = 5)</text>
<text transform="translate(195.90 235.00) rotate(-90) scale(0.5400 0.5400)" font-size="10" font-weight="bold" text-anchor="middle" fill="#111" stroke="#111" stroke-width="0.185">Displacement (m)</text>
<text transform="translate(279.10 264.20) scale(0.5550 0.6382)" font-size="10" font-weight="bold" text-anchor="middle" fill="#111" stroke="#111" stroke-width="0.180">time (s), f<tspan font-size="6.6" dy="3">s</tspan><tspan dy="-3"> = 100Hz</tspan></text>
<line x1="229.77" y1="274.80" x2="229.77" y2="310.40" stroke="#efefef" stroke-width="0.5"/>
<line x1="254.43" y1="274.80" x2="254.43" y2="310.40" stroke="#efefef" stroke-width="0.5"/>
<line x1="279.10" y1="274.80" x2="279.10" y2="310.40" stroke="#efefef" stroke-width="0.5"/>
<line x1="303.77" y1="274.80" x2="303.77" y2="310.40" stroke="#efefef" stroke-width="0.5"/>
<line x1="328.43" y1="274.80" x2="328.43" y2="310.40" stroke="#efefef" stroke-width="0.5"/>
<line x1="353.10" y1="274.80" x2="353.10" y2="310.40" stroke="#efefef" stroke-width="0.5"/>
<line x1="205.10" y1="274.80" x2="353.10" y2="274.80" stroke="#efefef" stroke-width="0.5"/>
<line x1="205.10" y1="283.70" x2="353.10" y2="283.70" stroke="#efefef" stroke-width="0.5"/>
<line x1="205.10" y1="292.60" x2="353.10" y2="292.60" stroke="#efefef" stroke-width="0.5"/>
<line x1="205.10" y1="301.50" x2="353.10" y2="301.50" stroke="#efefef" stroke-width="0.5"/>
<line x1="205.10" y1="274.80" x2="205.10" y2="310.40" stroke="#8c8c8c" stroke-width="0.5"/>
<line x1="205.10" y1="310.40" x2="353.10" y2="310.40" stroke="#8c8c8c" stroke-width="0.5"/>
<line x1="205.10" y1="310.40" x2="205.10" y2="309.20" stroke="#8c8c8c" stroke-width="0.4"/>
<text transform="translate(205.10 315.40) scale(0.4000 0.4600)" font-size="10" font-weight="normal" text-anchor="middle" fill="#1a1a1a" stroke="#1a1a1a" stroke-width="0.350">0</text>
<line x1="229.77" y1="310.40" x2="229.77" y2="309.20" stroke="#8c8c8c" stroke-width="0.4"/>
<text transform="translate(229.77 315.40) scale(0.4000 0.4600)" font-size="10" font-weight="normal" text-anchor="middle" fill="#1a1a1a" stroke="#1a1a1a" stroke-width="0.350">0.5</text>
<line x1="254.43" y1="310.40" x2="254.43" y2="309.20" stroke="#8c8c8c" stroke-width="0.4"/>
<text transform="translate(254.43 315.40) scale(0.4000 0.4600)" font-size="10" font-weight="normal" text-anchor="middle" fill="#1a1a1a" stroke="#1a1a1a" stroke-width="0.350">1</text>
<line x1="279.10" y1="310.40" x2="279.10" y2="309.20" stroke="#8c8c8c" stroke-width="0.4"/>
<text transform="translate(279.10 315.40) scale(0.4000 0.4600)" font-size="10" font-weight="normal" text-anchor="middle" fill="#1a1a1a" stroke="#1a1a1a" stroke-width="0.350">1.5</text>
<line x1="303.77" y1="310.40" x2="303.77" y2="309.20" stroke="#8c8c8c" stroke-width="0.4"/>
<text transform="translate(303.77 315.40) scale(0.4000 0.4600)" font-size="10" font-weight="normal" text-anchor="middle" fill="#1a1a1a" stroke="#1a1a1a" stroke-width="0.350">2</text>
<line x1="328.43" y1="310.40" x2="328.43" y2="309.20" stroke="#8c8c8c" stroke-width="0.4"/>
<text transform="translate(328.43 315.40) scale(0.4000 0.4600)" font-size="10" font-weight="normal" text-anchor="middle" fill="#1a1a1a" stroke="#1a1a1a" stroke-width="0.350">2.5</text>
<line x1="353.10" y1="310.40" x2="353.10" y2="309.20" stroke="#8c8c8c" stroke-width="0.4"/>
<text transform="translate(353.10 315.40) scale(0.4000 0.4600)" font-size="10" font-weight="normal" text-anchor="middle" fill="#1a1a1a" stroke="#1a1a1a" stroke-width="0.350">3</text>
<line x1="205.10" y1="274.80" x2="206.30" y2="274.80" stroke="#8c8c8c" stroke-width="0.4"/>
<text transform="translate(203.90 276.40) scale(0.4000 0.4600)" font-size="10" font-weight="normal" text-anchor="end" fill="#1a1a1a" stroke="#1a1a1a" stroke-width="0.350">1.4</text>
<line x1="205.10" y1="283.70" x2="206.30" y2="283.70" stroke="#8c8c8c" stroke-width="0.4"/>
<text transform="translate(203.90 285.30) scale(0.4000 0.4600)" font-size="10" font-weight="normal" text-anchor="end" fill="#1a1a1a" stroke="#1a1a1a" stroke-width="0.350">1.2</text>
<line x1="205.10" y1="292.60" x2="206.30" y2="292.60" stroke="#8c8c8c" stroke-width="0.4"/>
<text transform="translate(203.90 294.20) scale(0.4000 0.4600)" font-size="10" font-weight="normal" text-anchor="end" fill="#1a1a1a" stroke="#1a1a1a" stroke-width="0.350">1</text>
<line x1="205.10" y1="301.50" x2="206.30" y2="301.50" stroke="#8c8c8c" stroke-width="0.4"/>
<text transform="translate(203.90 303.10) scale(0.4000 0.4600)" font-size="10" font-weight="normal" text-anchor="end" fill="#1a1a1a" stroke="#1a1a1a" stroke-width="0.350">0.8</text>
<line x1="205.10" y1="310.40" x2="206.30" y2="310.40" stroke="#8c8c8c" stroke-width="0.4"/>
<text transform="translate(203.90 312.00) scale(0.4000 0.4600)" font-size="10" font-weight="normal" text-anchor="end" fill="#1a1a1a" stroke="#1a1a1a" stroke-width="0.350">0.6</text>
<clipPath id="c9"><rect x="205.1" y="272.8" width="148.00000000000003" height="37.599999999999966"/></clipPath>
<path d="M205.1 299.0L238.6 299.0L240.6 298.9L242.1 298.6L244.6 297.7L248.5 295.3L250.5 293.8L255.9 289.1L260.4 285.6L263.8 283.1L267.3 281.0L269.2 280.1L271.7 279.4L275.2 278.9L278.6 278.8L280.6 278.9L283.0 279.5L285.5 280.3L287.5 281.3L291.9 284.2L299.3 289.8L305.2 294.1L310.2 297.1L313.6 298.8L316.6 299.5L320.5 300.0L337.3 300.2" fill="none" stroke="#3399dd" stroke-width="1.05" stroke-linejoin="round" clip-path="url(#c9)"/>
<path d="M205.1 299.7L239.6 299.5L241.6 299.4L243.1 299.1L245.6 298.2L249.5 295.8L251.5 294.3L256.4 290.0L260.8 286.4L264.8 283.6L268.2 281.3L270.2 280.4L272.7 279.6L275.6 279.0L279.1 278.7L281.6 278.9L284.0 279.5L286.5 280.4L288.5 281.5L292.9 284.4L300.3 290.1L306.2 294.5L311.2 297.5L314.6 299.2L317.6 300.0L321.0 300.5L337.3 300.9" fill="none" stroke="#f65e26" stroke-width="1.3" stroke-linejoin="round" clip-path="url(#c9)"/>
<path d="M205.1 301.8L242.6 301.1L245.1 300.9L246.5 300.5L248.0 299.9L249.5 299.1L253.0 296.9L254.9 295.3L259.9 290.9L266.8 285.2L271.7 281.5L273.7 280.4L275.6 279.6L279.1 278.6L280.1 278.6L283.0 278.8L285.5 279.3L288.0 280.2L290.4 281.4L295.9 285.1L303.3 291.1L309.2 295.7L313.6 298.6L317.1 300.5L320.0 301.5L323.5 302.1L327.0 302.4L337.3 303.0" fill="none" stroke="#96cc66" stroke-width="0.75" stroke-linejoin="round" clip-path="url(#c9)"/>
<path d="M205.1 300.4L240.6 300.0L243.1 299.9L244.6 299.5L246.0 298.9L247.5 298.2L251.0 296.0L253.0 294.4L257.4 290.4L261.3 287.2L265.8 283.9L269.2 281.6L271.2 280.5L273.7 279.6L276.6 279.0L279.6 278.7L282.1 278.8L284.0 279.2L286.5 280.1L289.0 281.3L293.4 284.2L301.3 290.4L307.2 294.9L312.2 298.0L315.6 299.7L318.6 300.5L322.0 301.0L337.3 301.6" fill="none" stroke="#f6be4a" stroke-width="1.15" stroke-linejoin="round" stroke-dasharray="3 0.6" clip-path="url(#c9)"/>
<path d="M205.1 301.1L241.6 300.6L244.1 300.4L245.6 300.0L247.0 299.4L248.5 298.7L252.0 296.4L261.3 288.4L266.8 284.2L270.2 281.7L272.2 280.6L274.2 279.8L277.1 279.0L279.6 278.6L282.1 278.7L284.5 279.2L287.0 280.0L289.5 281.2L291.9 282.7L294.9 284.9L302.3 290.8L308.2 295.3L313.1 298.4L316.6 300.2L319.6 301.0L323.0 301.6L337.3 302.3" fill="none" stroke="#a64cc0" stroke-width="1.15" stroke-linejoin="round" stroke-dasharray="1.3 1.6" clip-path="url(#c9)"/>
<rect x="328.50" y="277.80" width="22.90" height="20.60" fill="#fff" stroke="#b8b8b8" stroke-width="0.5"/>
<line x1="330.10" y1="280.42" x2="339.03" y2="280.42" stroke="#3399dd" stroke-width="0.89" stroke-opacity="0.85"/>
<text transform="translate(339.53 281.62) scale(0.3500 0.4025)" font-size="10" font-weight="normal" text-anchor="start" fill="#3a3a3a" stroke="#3a3a3a" stroke-width="0.143">Base</text>
<line x1="330.10" y1="284.27" x2="339.03" y2="284.27" stroke="#f65e26" stroke-width="1.10" stroke-opacity="0.85"/>
<text transform="translate(339.53 285.47) scale(0.3500 0.4025)" font-size="10" font-weight="normal" text-anchor="start" fill="#3a3a3a" stroke="#3a3a3a" stroke-width="0.143">Node 1</text>
<line x1="330.10" y1="288.12" x2="339.03" y2="288.12" stroke="#f6be4a" stroke-width="0.98" stroke-opacity="0.85" stroke-dasharray="1.6 0.8 0.5 0.8"/>
<text transform="translate(339.53 289.32) scale(0.3500 0.4025)" font-size="10" font-weight="normal" text-anchor="start" fill="#3a3a3a" stroke="#3a3a3a" stroke-width="0.143">Node 2</text>
<line x1="330.10" y1="291.97" x2="339.03" y2="291.97" stroke="#a64cc0" stroke-width="0.98" stroke-opacity="0.85" stroke-dasharray="1.2 2.2"/>
<text transform="translate(339.53 293.17) scale(0.3500 0.4025)" font-size="10" font-weight="normal" text-anchor="start" fill="#3a3a3a" stroke="#3a3a3a" stroke-width="0.143">Node 3</text>
<line x1="330.10" y1="295.82" x2="339.03" y2="295.82" stroke="#96cc66" stroke-width="0.64" stroke-opacity="0.85"/>
<text transform="translate(339.53 297.02) scale(0.3500 0.4025)" font-size="10" font-weight="normal" text-anchor="start" fill="#3a3a3a" stroke="#3a3a3a" stroke-width="0.143">Node 4</text>
<text transform="translate(279.60 272.90) scale(0.5870 0.6750)" font-size="10" font-weight="bold" text-anchor="middle" fill="#111" stroke="#111" stroke-width="0.204">Trajectory of Nodes in Y Coordinate (K = 150, C = 5)</text>
<text transform="translate(195.90 292.60) rotate(-90) scale(0.5400 0.5400)" font-size="10" font-weight="bold" text-anchor="middle" fill="#111" stroke="#111" stroke-width="0.185">Displacement (m)</text>
<text transform="translate(279.10 321.50) scale(0.5550 0.6382)" font-size="10" font-weight="bold" text-anchor="middle" fill="#111" stroke="#111" stroke-width="0.180">time (s), f<tspan font-size="6.6" dy="3">s</tspan><tspan dy="-3"> = 100Hz</tspan></text>
<line x1="229.77" y1="332.60" x2="229.77" y2="367.90" stroke="#efefef" stroke-width="0.5"/>
<line x1="254.43" y1="332.60" x2="254.43" y2="367.90" stroke="#efefef" stroke-width="0.5"/>
<line x1="279.10" y1="332.60" x2="279.10" y2="367.90" stroke="#efefef" stroke-width="0.5"/>
<line x1="303.77" y1="332.60" x2="303.77" y2="367.90" stroke="#efefef" stroke-width="0.5"/>
<line x1="328.43" y1="332.60" x2="328.43" y2="367.90" stroke="#efefef" stroke-width="0.5"/>
<line x1="353.10" y1="332.60" x2="353.10" y2="367.90" stroke="#efefef" stroke-width="0.5"/>
<line x1="205.10" y1="332.60" x2="353.10" y2="332.60" stroke="#efefef" stroke-width="0.5"/>
<line x1="205.10" y1="344.37" x2="353.10" y2="344.37" stroke="#efefef" stroke-width="0.5"/>
<line x1="205.10" y1="356.13" x2="353.10" y2="356.13" stroke="#efefef" stroke-width="0.5"/>
<line x1="205.10" y1="332.60" x2="205.10" y2="367.90" stroke="#8c8c8c" stroke-width="0.5"/>
<line x1="205.10" y1="367.90" x2="353.10" y2="367.90" stroke="#8c8c8c" stroke-width="0.5"/>
<line x1="205.10" y1="367.90" x2="205.10" y2="366.70" stroke="#8c8c8c" stroke-width="0.4"/>
<text transform="translate(205.10 372.90) scale(0.4000 0.4600)" font-size="10" font-weight="normal" text-anchor="middle" fill="#1a1a1a" stroke="#1a1a1a" stroke-width="0.350">0</text>
<line x1="229.77" y1="367.90" x2="229.77" y2="366.70" stroke="#8c8c8c" stroke-width="0.4"/>
<text transform="translate(229.77 372.90) scale(0.4000 0.4600)" font-size="10" font-weight="normal" text-anchor="middle" fill="#1a1a1a" stroke="#1a1a1a" stroke-width="0.350">0.5</text>
<line x1="254.43" y1="367.90" x2="254.43" y2="366.70" stroke="#8c8c8c" stroke-width="0.4"/>
<text transform="translate(254.43 372.90) scale(0.4000 0.4600)" font-size="10" font-weight="normal" text-anchor="middle" fill="#1a1a1a" stroke="#1a1a1a" stroke-width="0.350">1</text>
<line x1="279.10" y1="367.90" x2="279.10" y2="366.70" stroke="#8c8c8c" stroke-width="0.4"/>
<text transform="translate(279.10 372.90) scale(0.4000 0.4600)" font-size="10" font-weight="normal" text-anchor="middle" fill="#1a1a1a" stroke="#1a1a1a" stroke-width="0.350">1.5</text>
<line x1="303.77" y1="367.90" x2="303.77" y2="366.70" stroke="#8c8c8c" stroke-width="0.4"/>
<text transform="translate(303.77 372.90) scale(0.4000 0.4600)" font-size="10" font-weight="normal" text-anchor="middle" fill="#1a1a1a" stroke="#1a1a1a" stroke-width="0.350">2</text>
<line x1="328.43" y1="367.90" x2="328.43" y2="366.70" stroke="#8c8c8c" stroke-width="0.4"/>
<text transform="translate(328.43 372.90) scale(0.4000 0.4600)" font-size="10" font-weight="normal" text-anchor="middle" fill="#1a1a1a" stroke="#1a1a1a" stroke-width="0.350">2.5</text>
<line x1="353.10" y1="367.90" x2="353.10" y2="366.70" stroke="#8c8c8c" stroke-width="0.4"/>
<text transform="translate(353.10 372.90) scale(0.4000 0.4600)" font-size="10" font-weight="normal" text-anchor="middle" fill="#1a1a1a" stroke="#1a1a1a" stroke-width="0.350">3</text>
<line x1="205.10" y1="332.60" x2="206.30" y2="332.60" stroke="#8c8c8c" stroke-width="0.4"/>
<text transform="translate(203.90 334.20) scale(0.4000 0.4600)" font-size="10" font-weight="normal" text-anchor="end" fill="#1a1a1a" stroke="#1a1a1a" stroke-width="0.350">0</text>
<line x1="205.10" y1="344.37" x2="206.30" y2="344.37" stroke="#8c8c8c" stroke-width="0.4"/>
<text transform="translate(203.90 345.97) scale(0.4000 0.4600)" font-size="10" font-weight="normal" text-anchor="end" fill="#1a1a1a" stroke="#1a1a1a" stroke-width="0.350">-0.1</text>
<line x1="205.10" y1="356.13" x2="206.30" y2="356.13" stroke="#8c8c8c" stroke-width="0.4"/>
<text transform="translate(203.90 357.73) scale(0.4000 0.4600)" font-size="10" font-weight="normal" text-anchor="end" fill="#1a1a1a" stroke="#1a1a1a" stroke-width="0.350">-0.2</text>
<line x1="205.10" y1="367.90" x2="206.30" y2="367.90" stroke="#8c8c8c" stroke-width="0.4"/>
<text transform="translate(203.90 369.50) scale(0.4000 0.4600)" font-size="10" font-weight="normal" text-anchor="end" fill="#1a1a1a" stroke="#1a1a1a" stroke-width="0.350">-0.3</text>
<clipPath id="c10"><rect x="205.1" y="330.6" width="148.00000000000003" height="37.299999999999955"/></clipPath>
<path d="M205.1 349.5L235.7 349.5L238.2 349.1L241.1 348.5L250.5 345.8L256.9 344.8L267.8 343.4L280.6 343.3L283.0 343.5L285.0 343.9L287.5 345.0L297.8 349.9L302.8 351.6L305.7 352.3L307.7 352.4L309.7 352.4L326.0 350.9L337.3 350.8" fill="none" stroke="#3399dd" stroke-width="1.05" stroke-linejoin="round" clip-path="url(#c10)"/>
<path d="M205.1 351.8L232.7 351.8L236.2 351.6L239.6 351.0L251.5 347.6L257.9 346.2L260.8 345.8L265.8 345.4L273.7 345.3L282.6 345.6L284.5 345.9L286.5 346.4L289.0 347.3L290.9 348.1L296.9 351.7L299.8 353.1L303.8 354.7L306.2 355.3L307.7 355.4L309.7 355.3L317.1 354.5L326.5 353.7L337.3 353.2" fill="none" stroke="#f65e26" stroke-width="1.3" stroke-linejoin="round" clip-path="url(#c10)"/>
<path d="M205.1 358.4L229.8 358.5L232.2 358.6L235.2 359.2L236.2 359.2L237.2 359.0L239.1 358.3L241.1 357.2L244.6 354.9L248.5 351.9L251.0 350.5L253.4 349.4L255.9 348.7L257.9 348.2L259.9 348.1L262.8 348.4L269.7 349.7L282.1 352.2L286.5 353.5L288.0 354.2L289.5 355.1L294.9 359.5L299.8 362.8L301.8 363.9L303.8 364.7L305.7 365.4L307.2 365.7L309.2 365.9L311.7 365.4L315.1 364.1L320.5 361.8L323.0 361.2L327.9 360.9L337.3 360.7" fill="none" stroke="#96cc66" stroke-width="0.75" stroke-linejoin="round" clip-path="url(#c10)"/>
<path d="M205.1 353.7L233.2 353.7L236.7 353.5L239.1 353.1L241.6 352.4L244.6 351.4L249.5 349.1L253.4 348.1L256.4 347.6L259.9 347.2L265.3 346.9L270.2 346.9L274.2 347.0L278.6 347.5L282.6 348.1L285.0 348.7L288.0 349.9L291.4 351.4L303.8 357.7L305.2 358.2L306.7 358.6L309.7 358.6L315.1 358.0L318.6 357.4L325.0 356.0L327.9 355.5L332.9 355.1L337.3 355.0" fill="none" stroke="#f6be4a" stroke-width="1.15" stroke-linejoin="round" stroke-dasharray="3 0.6" clip-path="url(#c10)"/>
<path d="M205.1 356.1L233.2 356.1L236.7 355.9L238.2 355.6L240.1 354.8L248.5 350.4L251.0 349.4L253.9 348.4L256.4 347.8L258.4 347.6L260.8 347.5L264.3 347.6L267.3 347.9L275.2 349.6L283.5 350.9L287.0 351.7L288.5 352.3L290.0 353.2L294.9 356.9L299.3 360.0L301.3 361.0L303.8 361.6L308.7 362.0L312.2 361.9L315.1 361.4L324.0 359.2L327.0 358.6L331.9 358.1L337.3 357.9" fill="none" stroke="#a64cc0" stroke-width="1.15" stroke-linejoin="round" stroke-dasharray="1.3 1.6" clip-path="url(#c10)"/>
<rect x="328.70" y="334.80" width="23.20" height="22.20" fill="#fff" stroke="#b8b8b8" stroke-width="0.5"/>
<line x1="330.32" y1="337.62" x2="339.37" y2="337.62" stroke="#3399dd" stroke-width="0.89" stroke-opacity="0.85"/>
<text transform="translate(339.87 338.82) scale(0.3500 0.4025)" font-size="10" font-weight="normal" text-anchor="start" fill="#3a3a3a" stroke="#3a3a3a" stroke-width="0.143">Base</text>
<line x1="330.32" y1="341.77" x2="339.37" y2="341.77" stroke="#f65e26" stroke-width="1.10" stroke-opacity="0.85"/>
<text transform="translate(339.87 342.97) scale(0.3500 0.4025)" font-size="10" font-weight="normal" text-anchor="start" fill="#3a3a3a" stroke="#3a3a3a" stroke-width="0.143">Node 1</text>
<line x1="330.32" y1="345.92" x2="339.37" y2="345.92" stroke="#f6be4a" stroke-width="0.98" stroke-opacity="0.85" stroke-dasharray="1.6 0.8 0.5 0.8"/>
<text transform="translate(339.87 347.12) scale(0.3500 0.4025)" font-size="10" font-weight="normal" text-anchor="start" fill="#3a3a3a" stroke="#3a3a3a" stroke-width="0.143">Node 2</text>
<line x1="330.32" y1="350.07" x2="339.37" y2="350.07" stroke="#a64cc0" stroke-width="0.98" stroke-opacity="0.85" stroke-dasharray="1.2 2.2"/>
<text transform="translate(339.87 351.27) scale(0.3500 0.4025)" font-size="10" font-weight="normal" text-anchor="start" fill="#3a3a3a" stroke="#3a3a3a" stroke-width="0.143">Node 3</text>
<line x1="330.32" y1="354.22" x2="339.37" y2="354.22" stroke="#96cc66" stroke-width="0.64" stroke-opacity="0.85"/>
<text transform="translate(339.87 355.42) scale(0.3500 0.4025)" font-size="10" font-weight="normal" text-anchor="start" fill="#3a3a3a" stroke="#3a3a3a" stroke-width="0.143">Node 4</text>
<text transform="translate(279.30 330.40) scale(0.5470 0.6290)" font-size="10" font-weight="bold" text-anchor="middle" fill="#111" stroke="#111" stroke-width="0.219">Trajectory of Nodes in Z Coordinate (K = 150, C = 5)</text>
<text transform="translate(196.20 350.25) rotate(-90) scale(0.4650 0.4650)" font-size="10" font-weight="bold" text-anchor="middle" fill="#111" stroke="#111" stroke-width="0.215">Displacement (m)</text>
<text transform="translate(279.10 378.00) scale(0.4650 0.5347)" font-size="10" font-weight="bold" text-anchor="middle" fill="#111" stroke="#111" stroke-width="0.215">time (s), f<tspan font-size="6.6" dy="3">s</tspan><tspan dy="-3"> = 100Hz</tspan></text>
<line x1="374.60" y1="341.80" x2="374.60" y2="262.30" stroke="#e6e6e6" stroke-width="0.5"/>
<line x1="381.29" y1="336.09" x2="381.29" y2="256.59" stroke="#e6e6e6" stroke-width="0.5"/>
<line x1="387.97" y1="330.37" x2="387.97" y2="250.87" stroke="#e6e6e6" stroke-width="0.5"/>
<line x1="394.66" y1="324.66" x2="394.66" y2="245.16" stroke="#e6e6e6" stroke-width="0.5"/>
<line x1="401.34" y1="318.94" x2="401.34" y2="239.44" stroke="#e6e6e6" stroke-width="0.5"/>
<line x1="408.03" y1="313.23" x2="408.03" y2="233.73" stroke="#e6e6e6" stroke-width="0.5"/>
<line x1="414.71" y1="307.51" x2="414.71" y2="228.01" stroke="#e6e6e6" stroke-width="0.5"/>
<line x1="421.40" y1="301.80" x2="421.40" y2="222.30" stroke="#e6e6e6" stroke-width="0.5"/>
<line x1="374.60" y1="341.80" x2="421.40" y2="301.80" stroke="#e6e6e6" stroke-width="0.5"/>
<line x1="374.60" y1="325.90" x2="421.40" y2="285.90" stroke="#e6e6e6" stroke-width="0.5"/>
<line x1="374.60" y1="310.00" x2="421.40" y2="270.00" stroke="#e6e6e6" stroke-width="0.5"/>
<line x1="374.60" y1="294.10" x2="421.40" y2="254.10" stroke="#e6e6e6" stroke-width="0.5"/>
<line x1="374.60" y1="278.20" x2="421.40" y2="238.20" stroke="#e6e6e6" stroke-width="0.5"/>
<line x1="374.60" y1="262.30" x2="421.40" y2="222.30" stroke="#e6e6e6" stroke-width="0.5"/>
<line x1="421.40" y1="301.80" x2="421.40" y2="222.30" stroke="#e6e6e6" stroke-width="0.5"/>
<line x1="437.24" y1="306.40" x2="437.24" y2="226.90" stroke="#e6e6e6" stroke-width="0.5"/>
<line x1="453.08" y1="311.00" x2="453.08" y2="231.50" stroke="#e6e6e6" stroke-width="0.5"/>
<line x1="468.92" y1="315.60" x2="468.92" y2="236.10" stroke="#e6e6e6" stroke-width="0.5"/>
<line x1="484.76" y1="320.20" x2="484.76" y2="240.70" stroke="#e6e6e6" stroke-width="0.5"/>
<line x1="500.60" y1="324.80" x2="500.60" y2="245.30" stroke="#e6e6e6" stroke-width="0.5"/>
<line x1="421.40" y1="301.80" x2="500.60" y2="324.80" stroke="#e6e6e6" stroke-width="0.5"/>
<line x1="421.40" y1="285.90" x2="500.60" y2="308.90" stroke="#e6e6e6" stroke-width="0.5"/>
<line x1="421.40" y1="270.00" x2="500.60" y2="293.00" stroke="#e6e6e6" stroke-width="0.5"/>
<line x1="421.40" y1="254.10" x2="500.60" y2="277.10" stroke="#e6e6e6" stroke-width="0.5"/>
<line x1="421.40" y1="238.20" x2="500.60" y2="261.20" stroke="#e6e6e6" stroke-width="0.5"/>
<line x1="421.40" y1="222.30" x2="500.60" y2="245.30" stroke="#e6e6e6" stroke-width="0.5"/>
<line x1="374.60" y1="341.80" x2="421.40" y2="301.80" stroke="#e6e6e6" stroke-width="0.5"/>
<line x1="390.44" y1="346.40" x2="437.24" y2="306.40" stroke="#e6e6e6" stroke-width="0.5"/>
<line x1="406.28" y1="351.00" x2="453.08" y2="311.00" stroke="#e6e6e6" stroke-width="0.5"/>
<line x1="422.12" y1="355.60" x2="468.92" y2="315.60" stroke="#e6e6e6" stroke-width="0.5"/>
<line x1="437.96" y1="360.20" x2="484.76" y2="320.20" stroke="#e6e6e6" stroke-width="0.5"/>
<line x1="453.80" y1="364.80" x2="500.60" y2="324.80" stroke="#e6e6e6" stroke-width="0.5"/>
<line x1="374.60" y1="341.80" x2="453.80" y2="364.80" stroke="#e6e6e6" stroke-width="0.5"/>
<line x1="381.29" y1="336.09" x2="460.49" y2="359.09" stroke="#e6e6e6" stroke-width="0.5"/>
<line x1="387.97" y1="330.37" x2="467.17" y2="353.37" stroke="#e6e6e6" stroke-width="0.5"/>
<line x1="394.66" y1="324.66" x2="473.86" y2="347.66" stroke="#e6e6e6" stroke-width="0.5"/>
<line x1="401.34" y1="318.94" x2="480.54" y2="341.94" stroke="#e6e6e6" stroke-width="0.5"/>
<line x1="408.03" y1="313.23" x2="487.23" y2="336.23" stroke="#e6e6e6" stroke-width="0.5"/>
<line x1="414.71" y1="307.51" x2="493.91" y2="330.51" stroke="#e6e6e6" stroke-width="0.5"/>
<line x1="421.40" y1="301.80" x2="500.60" y2="324.80" stroke="#e6e6e6" stroke-width="0.5"/>
<line x1="374.60" y1="341.80" x2="374.60" y2="262.30" stroke="#8a8a8a" stroke-width="0.5"/>
<line x1="374.60" y1="341.80" x2="453.80" y2="364.80" stroke="#8a8a8a" stroke-width="0.5"/>
<line x1="453.80" y1="364.80" x2="500.60" y2="324.80" stroke="#8a8a8a" stroke-width="0.5"/>
<line x1="374.60" y1="341.80" x2="375.80" y2="342.15" stroke="#8a8a8a" stroke-width="0.4"/>
<text transform="translate(372.00 342.80) scale(0.4000 0.4600)" font-size="10" font-weight="normal" text-anchor="end" fill="#1a1a1a" stroke="#1a1a1a" stroke-width="0.350">-0.3</text>
<line x1="374.60" y1="325.90" x2="375.80" y2="326.25" stroke="#8a8a8a" stroke-width="0.4"/>
<text transform="translate(372.00 326.90) scale(0.4000 0.4600)" font-size="10" font-weight="normal" text-anchor="end" fill="#1a1a1a" stroke="#1a1a1a" stroke-width="0.350">-0.25</text>
<line x1="374.60" y1="310.00" x2="375.80" y2="310.35" stroke="#8a8a8a" stroke-width="0.4"/>
<text transform="translate(372.00 311.00) scale(0.4000 0.4600)" font-size="10" font-weight="normal" text-anchor="end" fill="#1a1a1a" stroke="#1a1a1a" stroke-width="0.350">-0.2</text>
<line x1="374.60" y1="294.10" x2="375.80" y2="294.45" stroke="#8a8a8a" stroke-width="0.4"/>
<text transform="translate(372.00 295.10) scale(0.4000 0.4600)" font-size="10" font-weight="normal" text-anchor="end" fill="#1a1a1a" stroke="#1a1a1a" stroke-width="0.350">-0.15</text>
<line x1="374.60" y1="278.20" x2="375.80" y2="278.55" stroke="#8a8a8a" stroke-width="0.4"/>
<text transform="translate(372.00 279.20) scale(0.4000 0.4600)" font-size="10" font-weight="normal" text-anchor="end" fill="#1a1a1a" stroke="#1a1a1a" stroke-width="0.350">-0.1</text>
<line x1="374.60" y1="262.30" x2="375.80" y2="262.65" stroke="#8a8a8a" stroke-width="0.4"/>
<text transform="translate(372.00 263.30) scale(0.4000 0.4600)" font-size="10" font-weight="normal" text-anchor="end" fill="#1a1a1a" stroke="#1a1a1a" stroke-width="0.350">-0.05</text>
<line x1="374.60" y1="341.80" x2="375.30" y2="341.20" stroke="#8a8a8a" stroke-width="0.4"/>
<text transform="translate(370.20 348.00) scale(0.4000 0.4600)" font-size="10" font-weight="normal" text-anchor="middle" fill="#1a1a1a" stroke="#1a1a1a" stroke-width="0.350">-0.1</text>
<line x1="390.44" y1="346.40" x2="391.14" y2="345.80" stroke="#8a8a8a" stroke-width="0.4"/>
<text transform="translate(386.04 352.60) scale(0.4000 0.4600)" font-size="10" font-weight="normal" text-anchor="middle" fill="#1a1a1a" stroke="#1a1a1a" stroke-width="0.350">0</text>
<line x1="406.28" y1="351.00" x2="406.98" y2="350.40" stroke="#8a8a8a" stroke-width="0.4"/>
<text transform="translate(401.88 357.20) scale(0.4000 0.4600)" font-size="10" font-weight="normal" text-anchor="middle" fill="#1a1a1a" stroke="#1a1a1a" stroke-width="0.350">0.1</text>
<line x1="422.12" y1="355.60" x2="422.82" y2="355.00" stroke="#8a8a8a" stroke-width="0.4"/>
<text transform="translate(417.72 361.80) scale(0.4000 0.4600)" font-size="10" font-weight="normal" text-anchor="middle" fill="#1a1a1a" stroke="#1a1a1a" stroke-width="0.350">0.2</text>
<line x1="437.96" y1="360.20" x2="438.66" y2="359.60" stroke="#8a8a8a" stroke-width="0.4"/>
<text transform="translate(433.56 366.40) scale(0.4000 0.4600)" font-size="10" font-weight="normal" text-anchor="middle" fill="#1a1a1a" stroke="#1a1a1a" stroke-width="0.350">0.3</text>
<line x1="453.80" y1="364.80" x2="454.50" y2="364.20" stroke="#8a8a8a" stroke-width="0.4"/>
<text transform="translate(449.40 371.00) scale(0.4000 0.4600)" font-size="10" font-weight="normal" text-anchor="middle" fill="#1a1a1a" stroke="#1a1a1a" stroke-width="0.350">0.4</text>
<line x1="453.80" y1="364.80" x2="452.70" y2="364.50" stroke="#8a8a8a" stroke-width="0.4"/>
<text transform="translate(456.80 369.40) scale(0.4000 0.4600)" font-size="10" font-weight="normal" text-anchor="start" fill="#1a1a1a" stroke="#1a1a1a" stroke-width="0.350">0.7</text>
<line x1="460.49" y1="359.09" x2="459.39" y2="358.79" stroke="#8a8a8a" stroke-width="0.4"/>
<text transform="translate(463.49 363.69) scale(0.4000 0.4600)" font-size="10" font-weight="normal" text-anchor="start" fill="#1a1a1a" stroke="#1a1a1a" stroke-width="0.350">0.8</text>
<line x1="467.17" y1="353.37" x2="466.07" y2="353.07" stroke="#8a8a8a" stroke-width="0.4"/>
<text transform="translate(470.17 357.97) scale(0.4000 0.4600)" font-size="10" font-weight="normal" text-anchor="start" fill="#1a1a1a" stroke="#1a1a1a" stroke-width="0.350">0.9</text>
<line x1="473.86" y1="347.66" x2="472.76" y2="347.36" stroke="#8a8a8a" stroke-width="0.4"/>
<text transform="translate(476.86 352.26) scale(0.4000 0.4600)" font-size="10" font-weight="normal" text-anchor="start" fill="#1a1a1a" stroke="#1a1a1a" stroke-width="0.350">1</text>
<line x1="480.54" y1="341.94" x2="479.44" y2="341.64" stroke="#8a8a8a" stroke-width="0.4"/>
<text transform="translate(483.54 346.54) scale(0.4000 0.4600)" font-size="10" font-weight="normal" text-anchor="start" fill="#1a1a1a" stroke="#1a1a1a" stroke-width="0.350">1.1</text>
<line x1="487.23" y1="336.23" x2="486.13" y2="335.93" stroke="#8a8a8a" stroke-width="0.4"/>
<text transform="translate(490.23 340.83) scale(0.4000 0.4600)" font-size="10" font-weight="normal" text-anchor="start" fill="#1a1a1a" stroke="#1a1a1a" stroke-width="0.350">1.2</text>
<line x1="493.91" y1="330.51" x2="492.81" y2="330.21" stroke="#8a8a8a" stroke-width="0.4"/>
<text transform="translate(496.91 335.11) scale(0.4000 0.4600)" font-size="10" font-weight="normal" text-anchor="start" fill="#1a1a1a" stroke="#1a1a1a" stroke-width="0.350">1.3</text>
<line x1="500.60" y1="324.80" x2="499.50" y2="324.50" stroke="#8a8a8a" stroke-width="0.4"/>
<text transform="translate(503.60 329.40) scale(0.4000 0.4600)" font-size="10" font-weight="normal" text-anchor="start" fill="#1a1a1a" stroke="#1a1a1a" stroke-width="0.350">1.4</text>
<text transform="translate(412.00 371.80) scale(0.5300 0.6095)" font-size="10" font-weight="bold" text-anchor="middle" fill="#111" stroke="#111" stroke-width="0.189">x (m)</text>
<text transform="translate(489.50 360.40) scale(0.5300 0.6095)" font-size="10" font-weight="bold" text-anchor="middle" fill="#111" stroke="#111" stroke-width="0.189">y (m)</text>
<text transform="translate(361.20 301.10) rotate(-90) scale(0.5300 0.5300)" font-size="10" font-weight="bold" text-anchor="middle" fill="#111" stroke="#111" stroke-width="0.189">z (m)</text>
<path d="M423.0 296.1L420.5 295.1L418.3 293.8L416.5 292.2L415.0 290.5L413.9 288.7L413.0 286.3L412.5 283.7L412.4 281.1L412.6 278.5L413.3 275.9L414.2 273.3L415.6 270.5L417.1 268.2L419.1 265.6L421.4 263.3L423.9 261.1L426.2 259.4L429.1 257.7L432.0 256.2L435.0 254.9L438.0 253.9L440.7 253.3L443.8 252.8L446.5 252.7L449.7 252.7L452.9 253.1L456.1 253.7L458.8 254.5L461.8 255.7L464.3 256.9L466.6 258.4L468.8 260.0L470.8 261.9L472.5 264.0L474.0 266.2L475.3 268.7L476.3 271.3L477.0 274.0L477.5 276.7L477.8 280.0L477.8 282.9L477.5 286.2L476.9 289.4L476.1 292.0L475.1 294.5L473.8 296.9L472.3 299.1L470.6 301.0L468.7 302.7L466.9 303.9L464.9 304.9L462.5 305.8L459.9 306.6L457.1 307.0L454.3 307.3L451.4 307.3L448.5 307.1L445.1 306.7L441.8 306.0L438.5 305.1L435.4 304.1L432.5 302.8L429.8 301.4L427.7 300.1" fill="none" stroke="#3399dd" stroke-width="1.05" stroke-linejoin="round"/>
<path d="M419.3 303.2L416.8 301.8L414.6 300.2L412.7 298.4L411.2 296.4L410.0 294.3L408.8 291.6L408.1 288.8L407.8 285.9L407.9 283.0L408.3 280.2L409.1 277.4L410.2 274.7L411.6 272.2L413.5 269.4L415.4 267.1L418.0 264.8L420.3 263.0L422.8 261.4L425.0 260.3L427.8 259.2L430.6 258.3L434.0 257.6L437.0 257.3L440.6 257.1L444.1 257.2L447.7 257.5L451.2 258.0L454.7 258.8L458.0 259.9L460.7 261.1L463.3 262.5L465.6 264.1L467.8 266.0L469.8 268.1L471.5 270.5L473.2 273.5L474.4 276.3L475.5 279.6L476.2 282.6L476.7 286.2L476.9 289.7L476.7 293.3L476.2 296.7L475.4 299.6L474.3 302.8L473.0 305.3L471.5 307.6L469.7 309.7L468.0 311.3L465.7 312.9L463.2 314.2L460.6 315.3L457.8 316.0L454.8 316.5L451.8 316.8L448.8 316.7L445.7 316.4L442.7 315.8L439.7 315.0L436.8 313.9L433.5 312.5L430.3 310.9L427.0 308.9L423.9 306.8" fill="none" stroke="#f65e26" stroke-width="1.3" stroke-linejoin="round"/>
<path d="M409.1 323.8L406.5 321.2L404.3 318.3L402.4 315.2L400.5 311.3L399.2 307.8L398.1 303.5L397.5 299.8L397.1 295.4L397.1 290.9L397.5 286.5L398.1 282.7L399.1 279.1L400.3 276.3L401.9 273.6L403.8 271.1L406.5 268.4L408.9 266.6L411.0 265.3L413.2 264.4L416.1 263.5L418.4 263.1L421.4 263.0L424.4 263.1L428.1 263.5L433.1 264.6L438.7 266.1L446.1 268.4L450.8 270.1L454.2 271.7L457.3 273.5L460.3 275.6L463.1 278.0L465.6 280.6L467.8 283.5L470.1 287.1L471.8 290.4L473.1 293.8L474.2 297.4L474.9 301.0L475.3 305.4L475.4 309.9L475.0 315.1L474.4 319.6L473.3 324.7L471.6 330.2L470.0 334.3L468.4 337.6L467.4 339.0L466.3 340.4L464.2 342.3L461.7 343.8L459.0 345.0L456.1 345.8L453.0 346.3L449.2 346.5L446.0 346.3L442.2 345.6L439.2 344.8L436.2 343.7L433.3 342.3L430.6 340.8L427.4 338.8L424.3 336.6L414.6 329.0" fill="none" stroke="#96cc66" stroke-width="0.75" stroke-linejoin="round"/>
<path d="M416.0 309.3L413.8 308.0L411.3 306.0L409.3 303.6L407.6 301.0L406.2 298.1L405.1 294.5L404.5 291.3L404.2 287.5L404.4 284.2L405.0 281.0L405.9 278.0L407.4 274.6L409.0 271.9L411.2 269.0L413.8 266.4L416.2 264.5L418.8 262.8L421.6 261.5L424.1 260.6L427.1 260.0L430.3 259.6L433.5 259.5L437.3 259.7L441.1 260.2L445.5 261.0L449.8 262.0L453.9 263.3L457.3 264.6L460.5 266.3L463.1 267.9L465.8 270.1L467.9 272.2L469.8 274.7L471.4 277.3L472.8 280.1L474.0 283.7L474.9 286.8L475.5 290.6L475.8 293.9L475.8 297.8L475.4 301.7L474.9 304.9L473.9 308.6L472.8 311.6L471.4 314.5L469.8 317.2L468.0 319.6L465.9 321.8L464.0 323.4L461.9 324.7L459.6 325.8L457.8 326.5L455.3 327.1L453.3 327.3L451.2 327.2L449.0 327.0L446.3 326.5L443.6 325.7L437.9 323.7L432.5 321.2L421.5 315.5" fill="none" stroke="#f6be4a" stroke-width="1.15" stroke-linejoin="round" stroke-dasharray="3 0.6"/>
<path d="M412.1 316.2L409.7 313.8L407.6 311.2L405.5 308.0L403.9 305.0L402.5 301.3L401.5 298.0L400.9 294.6L400.7 291.1L400.8 286.9L401.2 283.3L402.0 279.8L403.2 276.4L404.6 273.2L406.4 270.3L408.5 267.8L410.5 266.0L412.7 264.6L415.6 263.2L418.1 262.4L421.4 261.8L424.7 261.5L428.2 261.5L432.4 261.8L436.6 262.4L441.3 263.3L445.9 264.6L449.8 265.9L453.5 267.4L457.0 269.3L459.9 271.1L462.5 273.1L464.9 275.4L467.0 277.9L468.9 280.7L470.6 283.6L472.2 287.2L473.3 290.5L474.3 294.4L474.9 297.8L475.2 301.9L475.1 306.0L474.8 310.1L474.1 314.2L473.0 318.2L471.5 322.6L469.8 326.3L468.1 329.2L466.4 331.3L464.8 332.7L462.6 334.2L460.1 335.4L457.5 336.2L454.8 336.7L451.9 336.9L449.0 336.9L445.5 336.5L443.2 336.0L440.4 335.2L437.7 334.1L435.0 332.9L430.5 330.4L421.8 324.9L418.4 322.9" fill="none" stroke="#a64cc0" stroke-width="1.15" stroke-linejoin="round" stroke-dasharray="1.3 1.6"/>
<rect x="508.20" y="283.30" width="22.40" height="21.60" fill="#fff" stroke="#b8b8b8" stroke-width="0.5"/>
<line x1="509.77" y1="286.05" x2="518.50" y2="286.05" stroke="#3399dd" stroke-width="0.89" stroke-opacity="0.85"/>
<text transform="translate(519.00 287.25) scale(0.3400 0.3910)" font-size="10" font-weight="normal" text-anchor="start" fill="#3a3a3a" stroke="#3a3a3a" stroke-width="0.147">Base</text>
<line x1="509.77" y1="290.08" x2="518.50" y2="290.08" stroke="#f65e26" stroke-width="1.10" stroke-opacity="0.85"/>
<text transform="translate(519.00 291.28) scale(0.3400 0.3910)" font-size="10" font-weight="normal" text-anchor="start" fill="#3a3a3a" stroke="#3a3a3a" stroke-width="0.147">Node 1</text>
<line x1="509.77" y1="294.12" x2="518.50" y2="294.12" stroke="#f6be4a" stroke-width="0.98" stroke-opacity="0.85" stroke-dasharray="1.6 0.8 0.5 0.8"/>
<text transform="translate(519.00 295.32) scale(0.3400 0.3910)" font-size="10" font-weight="normal" text-anchor="start" fill="#3a3a3a" stroke="#3a3a3a" stroke-width="0.147">Node 2</text>
<line x1="509.77" y1="298.16" x2="518.50" y2="298.16" stroke="#a64cc0" stroke-width="0.98" stroke-opacity="0.85" stroke-dasharray="1.2 2.2"/>
<text transform="translate(519.00 299.36) scale(0.3400 0.3910)" font-size="10" font-weight="normal" text-anchor="start" fill="#3a3a3a" stroke="#3a3a3a" stroke-width="0.147">Node 3</text>
<line x1="509.77" y1="302.19" x2="518.50" y2="302.19" stroke="#96cc66" stroke-width="0.64" stroke-opacity="0.85"/>
<text transform="translate(519.00 303.39) scale(0.3400 0.3910)" font-size="10" font-weight="normal" text-anchor="start" fill="#3a3a3a" stroke="#3a3a3a" stroke-width="0.147">Node 4</text>
<text transform="translate(437.40 220.10) scale(0.5850 0.6727)" font-size="10" font-weight="bold" text-anchor="middle" fill="#111" stroke="#111" stroke-width="0.205">Trajectory of Nodes in 3d space(K = 150, C = 5)</text>
<text transform="translate(359.60 209.60) scale(0.8400 0.8400)" font-size="10" font-weight="bold" text-anchor="start" fill="#000" stroke="#000" stroke-width="0.417">(f)</text>
</svg>
</body></html>
